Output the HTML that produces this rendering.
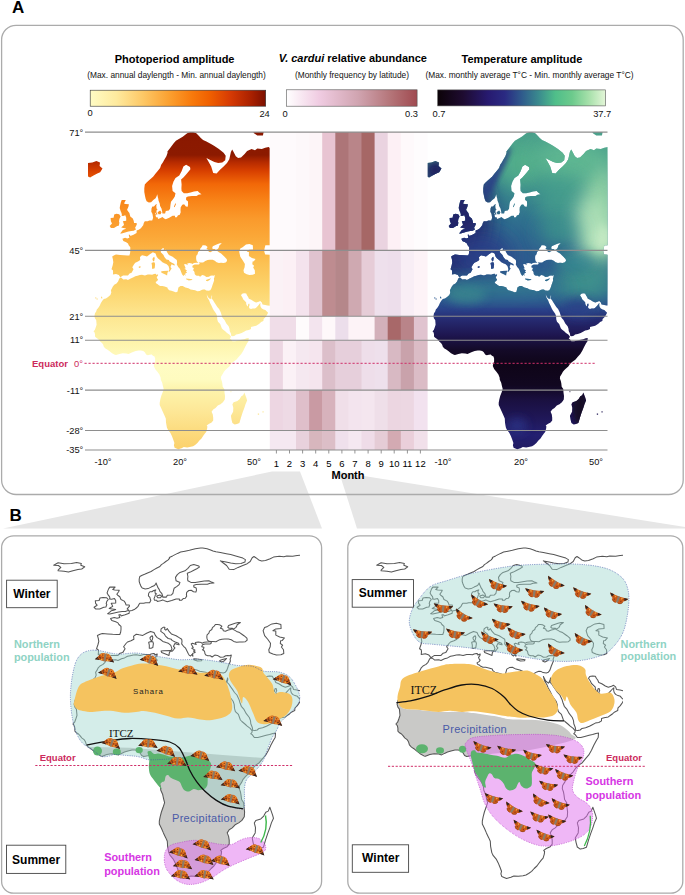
<!DOCTYPE html>
<html><head><meta charset="utf-8">
<style>
html,body{margin:0;padding:0;background:#fff;width:685px;height:895px;overflow:hidden}
svg{display:block}
text{font-family:"Liberation Sans",sans-serif}
</style></head>
<body>
<svg width="685" height="895" viewBox="0 0 685 895">
<defs>
<linearGradient id="cbPhoto" x1="0" x2="1" y1="0" y2="0">
<stop offset="0" stop-color="#fffcc4"/><stop offset="0.15" stop-color="#feea9e"/><stop offset="0.3" stop-color="#fdc866"/><stop offset="0.45" stop-color="#fba030"/><stop offset="0.58" stop-color="#f87a0c"/><stop offset="0.68" stop-color="#f06000"/><stop offset="0.8" stop-color="#d63a04"/><stop offset="0.92" stop-color="#a82000"/><stop offset="1" stop-color="#7c1000"/>
</linearGradient>
<linearGradient id="cbAbund" x1="0" x2="1" y1="0" y2="0">
<stop offset="0" stop-color="#ffffff"/><stop offset="0.25" stop-color="#f0cce2"/><stop offset="0.55" stop-color="#d0a4b0"/><stop offset="0.8" stop-color="#b47478"/><stop offset="1" stop-color="#a04a50"/>
</linearGradient>
<linearGradient id="cbTemp" x1="0" x2="1" y1="0" y2="0">
<stop offset="0" stop-color="#0c0308"/><stop offset="0.15" stop-color="#1e0b30"/><stop offset="0.3" stop-color="#271a70"/><stop offset="0.4" stop-color="#2a2a82"/><stop offset="0.5" stop-color="#2f5a8c"/><stop offset="0.6" stop-color="#3a8a8e"/><stop offset="0.7" stop-color="#4fbe8a"/><stop offset="0.8" stop-color="#6cca8c"/><stop offset="0.9" stop-color="#a6e0aa"/><stop offset="1" stop-color="#e4f6d8"/>
</linearGradient>
</defs>

<!-- gray projection shapes -->
<path d="M272,471.5 L300,471.5 L322,528.5 L3,528.5 Z" fill="#e6e6e6"/>
<path d="M339,472 L357,528.5 L685,528.5 L685,527 Z" fill="#e6e6e6"/>

<!-- Panel A frame -->
<rect x="1.6" y="25.3" width="681.6" height="469.2" rx="14.5" fill="none" stroke="#ababab" stroke-width="1.3"/>
<text x="12" y="13.3" font-size="17" font-weight="bold">A</text>
<text x="9.4" y="521" font-size="17" font-weight="bold">B</text>

<!-- titles -->
<g font-size="11" font-weight="bold" text-anchor="middle" fill="#000">
<text x="174.6" y="62.5">Photoperiod amplitude</text>
<text x="352.9" y="62.4"><tspan font-style="italic">V. cardui</tspan> relative abundance</text>
<text x="522" y="62.5">Temperature amplitude</text>
</g>
<g font-size="8.35" text-anchor="middle" fill="#111">
<text x="176.5" y="78.4">(Max. annual daylength - Min. annual daylength)</text>
<text x="352" y="78.4">(Monthly frequency by latitude)</text>
<text x="529.5" y="78.4">(Max. monthly average T°C - Min. monthly average T°C)</text>
</g>
<!-- colorbars -->
<rect x="90.2" y="90.2" width="175.5" height="16" fill="url(#cbPhoto)" stroke="#333" stroke-width="0.6"/>
<rect x="286.3" y="89.8" width="130.8" height="16.4" fill="url(#cbAbund)" stroke="#555" stroke-width="0.6"/>
<rect x="437.7" y="89.9" width="167.9" height="16" fill="url(#cbTemp)" stroke="#555" stroke-width="0.6"/>
<g font-size="9.3" fill="#111">
<text x="87.6" y="115.5">0</text>
<text x="259.4" y="117.3">24</text>
<text x="282.6" y="116.6">0</text>
<text x="405" y="116.6">0.3</text>
<text x="432.6" y="117">0.7</text>
<text x="593.2" y="117">37.7</text>
</g>

<!-- MAPS A -->
<g id="mapsA">
<defs><linearGradient id="gPhoto" gradientUnits="userSpaceOnUse" x1="0" y1="132" x2="0" y2="452"><stop offset="0.0000" stop-color="#8a1800"/><stop offset="0.0719" stop-color="#8c1a00"/><stop offset="0.0938" stop-color="#b52a00"/><stop offset="0.1219" stop-color="#d84000"/><stop offset="0.1625" stop-color="#f26808"/><stop offset="0.2156" stop-color="#f88418"/><stop offset="0.2719" stop-color="#fa9a2c"/><stop offset="0.3281" stop-color="#fba838"/><stop offset="0.3688" stop-color="#fcb444"/><stop offset="0.4125" stop-color="#fcc254"/><stop offset="0.4875" stop-color="#fcd46c"/><stop offset="0.5750" stop-color="#fde690"/><stop offset="0.6500" stop-color="#fef3a8"/><stop offset="0.7219" stop-color="#fffcc4"/><stop offset="0.7750" stop-color="#fefbbf"/><stop offset="0.8063" stop-color="#fdf3ab"/><stop offset="0.8688" stop-color="#fde898"/><stop offset="0.9313" stop-color="#fcdc80"/><stop offset="1.0000" stop-color="#fbcf68"/></linearGradient><clipPath id="clipL"><rect x="88" y="132" width="181.8" height="320"/></clipPath><clipPath id="clipR"><rect x="427" y="132" width="180.5" height="320"/></clipPath><path id="landA" fill-rule="evenodd" d="M270.9,148.4 268.6,147.1 265.2,147.8 261.8,149.0 257.3,148.4 255.0,150.2 251.6,149.0 247.1,150.9 244.6,153.9 241.0,157.4 238.1,158.0 235.8,156.2 233.6,152.1 232.2,149.6 230.9,152.1 229.3,159.2 227.0,163.1 223.6,166.5 220.0,169.7 216.6,173.4 213.2,172.9 211.2,166.5 208.7,162.0 206.4,158.0 209.8,159.7 214.4,162.0 218.2,163.1 222.3,162.6 225.2,160.3 225.7,155.7 223.6,152.7 218.9,149.0 214.4,145.9 211.0,144.0 206.4,141.4 203.1,140.1 200.8,138.1 199.0,136.0 196.3,133.3 192.9,131.9 191.3,131.5 187.2,133.3 182.7,136.7 179.3,138.7 175.9,140.7 173.7,143.3 169.8,148.4 167.4,151.5 167.6,152.7 166.4,156.2 164.6,159.2 162.8,162.6 161.2,164.8 160.1,168.1 157.9,170.8 155.6,173.4 153.3,176.5 151.1,178.5 148.8,180.5 146.6,182.5 144.8,184.4 144.3,188.2 144.3,192.0 145.0,196.0 145.7,199.1 146.6,201.3 148.8,202.6 151.1,202.2 153.3,200.0 155.6,198.3 156.7,196.0 157.2,194.2 157.9,197.4 158.3,198.7 158.5,200.5 159.7,203.5 160.1,206.0 161.5,208.5 162.2,211.8 162.4,213.4 165.1,213.4 165.8,210.9 168.9,210.5 170.1,208.5 170.5,204.7 171.0,201.8 173.2,199.1 174.8,196.5 175.5,193.3 172.6,191.0 172.1,185.9 173.5,181.5 175.5,178.0 179.3,175.5 181.6,171.3 183.4,166.5 186.1,164.8 190.0,167.0 190.4,169.2 188.4,171.8 186.1,174.4 183.4,177.5 181.1,179.5 181.6,184.4 181.4,188.2 181.6,191.0 183.8,193.3 187.2,193.3 190.6,192.4 194.0,191.5 197.6,191.0 199.7,192.9 201.5,194.2 198.5,194.7 196.5,196.0 191.8,196.0 187.9,196.5 186.1,197.4 186.1,200.0 187.9,201.3 188.1,204.3 187.7,206.8 185.9,206.4 184.1,204.3 182.3,204.7 180.7,207.2 180.5,210.1 180.7,212.2 179.6,214.9 178.0,215.3 176.8,217.3 175.0,217.3 175.0,215.7 172.6,215.7 169.2,217.7 165.8,219.2 164.2,218.5 162.4,216.9 160.6,218.1 158.1,218.9 157.6,217.3 156.1,217.3 155.6,215.7 156.3,212.6 156.7,210.1 157.6,209.3 156.5,208.5 156.3,205.6 157.0,203.9 155.4,204.7 154.0,206.4 152.4,206.4 151.5,208.5 151.3,211.8 152.4,213.8 152.7,215.3 153.1,217.7 152.2,220.4 149.3,220.4 147.7,221.2 144.8,221.2 143.8,223.0 143.2,225.3 142.0,226.8 140.9,228.2 138.7,229.7 136.6,230.4 136.6,232.9 133.5,234.7 130.3,235.9 130.1,234.7 128.7,234.7 129.4,237.8 127.3,238.5 125.1,237.8 122.4,238.8 123.3,240.9 126.2,242.2 128.0,243.6 128.7,245.2 130.3,247.2 130.3,250.4 130.1,253.0 129.4,255.5 127.3,255.5 124.0,255.3 120.1,254.9 116.0,254.4 114.2,255.2 112.2,256.4 112.9,259.2 113.3,262.2 112.7,265.2 111.5,269.3 112.9,270.2 113.1,271.9 112.9,274.5 116.0,274.0 118.8,275.1 120.3,277.3 123.1,275.4 128.0,275.4 129.6,273.4 131.6,272.8 133.5,269.3 132.3,267.3 134.1,264.3 135.3,262.8 138.0,261.6 140.2,260.1 140.0,257.0 142.0,255.2 144.3,255.8 147.0,256.4 149.9,254.2 152.9,252.3 155.6,253.6 156.7,256.7 158.1,258.6 160.6,260.4 162.4,262.2 164.9,263.4 166.4,264.0 168.5,266.1 169.4,269.3 168.5,271.7 169.4,271.7 170.5,270.2 171.6,268.5 170.5,267.0 171.6,264.3 173.7,265.2 174.8,265.5 174.4,264.0 171.9,262.8 169.4,261.3 168.9,260.1 166.4,259.5 164.4,257.0 163.5,254.9 160.8,252.3 161.0,249.8 162.6,248.2 164.0,248.2 163.7,250.1 164.6,251.1 165.8,249.5 167.4,252.7 168.9,254.9 170.5,255.8 172.6,256.7 174.8,258.6 176.8,260.1 177.1,262.2 176.8,264.6 178.2,267.0 179.8,268.8 180.7,270.8 181.8,273.7 182.5,275.1 183.6,275.9 184.5,274.5 185.4,276.2 185.2,273.7 186.1,273.1 187.2,272.5 185.9,271.4 187.0,270.5 184.5,268.8 185.7,268.2 184.1,264.6 185.0,264.0 186.8,264.6 187.9,265.2 187.2,263.4 189.5,263.0 191.8,263.4 192.4,264.0 194.0,263.1 196.3,262.8 198.5,262.7 196.7,261.3 196.3,259.8 196.1,258.0 196.3,255.8 197.6,254.2 198.1,252.0 199.9,250.4 200.3,248.5 201.7,246.9 202.6,245.2 204.2,245.2 205.8,245.5 207.6,246.9 206.4,249.1 208.3,249.8 208.7,251.7 210.3,252.2 212.6,251.1 214.4,250.4 215.7,249.1 213.2,249.1 212.1,248.2 212.8,246.2 215.5,244.9 217.8,243.9 220.0,243.2 221.8,243.2 219.3,245.5 218.9,247.2 218.2,248.5 217.1,249.5 215.9,250.1 217.3,251.1 218.9,252.3 221.1,253.6 222.9,255.2 224.5,256.7 226.8,259.2 227.0,261.0 225.7,262.5 223.4,263.0 221.1,262.8 218.9,263.1 216.6,262.2 214.8,260.7 212.6,259.8 209.8,259.8 207.6,260.1 205.3,261.0 203.1,262.5 200.8,262.4 199.0,262.2 199.7,263.7 198.8,264.6 196.3,264.6 194.7,264.6 192.7,265.5 192.2,267.3 193.8,267.9 193.6,269.3 192.7,270.2 193.8,270.8 194.5,272.2 194.7,274.0 195.4,275.1 196.7,275.7 198.8,275.7 200.1,276.8 202.2,275.1 204.2,275.4 206.4,277.1 208.9,276.8 210.5,275.7 212.1,275.4 213.5,275.7 214.8,275.1 214.4,277.3 213.9,278.7 214.1,280.4 213.5,282.3 212.6,284.8 211.9,287.0 211.2,288.8 210.3,290.2 208.7,290.7 206.2,290.4 204.9,289.6 203.1,289.4 201.5,289.9 199.7,291.0 197.4,291.2 195.1,290.2 190.6,289.4 188.4,288.3 185.4,287.5 182.7,285.9 180.5,286.1 178.4,287.5 178.0,289.4 177.3,292.0 175.5,292.3 173.7,291.5 171.4,290.7 169.2,290.2 167.8,288.8 167.4,287.5 164.6,286.4 162.4,285.9 160.1,285.9 158.5,285.1 157.4,284.0 156.3,283.4 155.6,282.1 157.2,281.0 158.1,279.6 157.2,278.5 156.7,277.1 157.9,275.7 158.1,274.2 156.3,275.1 156.1,274.0 155.1,273.7 153.3,274.2 152.2,274.8 149.9,274.5 147.7,274.5 145.0,275.4 142.0,274.8 139.8,275.1 137.5,275.7 135.3,276.2 133.0,277.6 130.7,278.5 128.0,279.9 126.2,279.3 123.3,279.6 121.0,277.6 119.7,277.9 119.0,279.3 118.1,281.5 116.5,283.4 114.2,284.8 112.7,286.7 112.0,288.3 110.9,290.2 111.3,292.5 110.4,294.9 108.1,297.0 105.9,298.5 103.8,299.0 102.3,300.8 100.9,303.1 99.8,305.6 98.2,307.9 96.8,309.4 96.2,311.4 95.0,313.3 94.4,316.2 95.0,318.4 96.2,319.9 96.4,322.3 96.6,324.7 95.7,327.5 94.8,329.9 93.5,331.3 94.6,332.4 95.0,334.3 95.0,336.6 95.9,337.6 97.7,338.7 99.1,340.1 100.2,341.5 102.0,342.9 103.2,344.7 103.8,346.8 105.4,348.4 107.2,349.5 109.3,351.1 112.0,353.2 114.9,354.8 116.0,355.1 119.4,353.9 122.8,353.2 126.2,353.4 128.5,354.1 130.7,353.0 133.0,352.0 135.7,351.1 138.7,350.6 140.9,350.4 143.2,350.9 144.8,352.3 146.1,354.6 147.7,355.2 149.9,354.8 151.8,354.6 152.9,355.7 154.5,356.6 155.1,358.6 155.1,361.6 154.2,363.9 153.8,366.1 155.1,369.1 157.4,371.8 159.4,374.5 160.6,377.5 160.8,379.8 162.2,382.8 162.8,385.5 163.7,389.0 162.6,392.4 161.2,395.9 160.3,399.4 159.7,402.7 159.7,404.9 161.2,408.2 162.8,411.8 164.6,415.7 165.8,418.4 166.0,422.4 166.9,427.4 167.8,429.4 170.3,432.8 171.9,435.9 173.2,439.6 174.4,443.0 173.9,445.2 174.6,447.7 176.4,448.5 178.2,449.3 181.6,448.2 183.8,447.1 187.2,447.4 190.9,446.8 193.1,446.3 195.1,444.9 197.4,443.0 199.4,440.6 201.5,438.5 203.1,436.1 204.9,433.5 206.2,432.0 207.1,428.7 207.4,426.6 206.7,425.6 208.7,424.1 211.6,422.6 213.2,420.6 213.2,417.4 212.8,414.5 211.6,411.8 213.2,409.4 215.5,408.0 217.8,405.6 220.5,404.2 222.9,402.3 224.8,399.4 225.0,395.9 224.5,392.4 224.3,389.0 222.7,386.7 222.3,383.2 221.8,380.9 220.9,378.6 221.1,376.4 222.7,374.1 223.9,371.8 225.4,370.0 227.0,368.6 229.3,366.4 231.3,363.6 233.8,361.4 236.3,359.8 238.8,356.8 241.3,354.1 243.3,350.7 245.1,347.0 247.1,343.3 248.5,341.3 248.7,338.0 246.7,338.3 244.2,339.2 241.5,339.7 238.1,340.6 235.2,341.3 232.4,341.3 230.9,339.2 229.7,338.5 230.6,337.6 230.9,336.4 229.3,334.5 227.0,332.9 225.2,331.3 222.9,329.4 221.8,328.2 220.2,323.9 218.0,321.8 217.3,319.4 217.1,316.2 216.2,313.8 213.9,310.6 213.0,308.9 211.4,305.6 210.1,303.1 209.2,300.6 207.4,297.5 206.7,294.6 206.4,293.7 207.1,295.2 208.3,297.5 210.3,299.3 211.0,298.3 211.6,296.2 212.0,294.9 212.1,296.5 211.4,298.5 212.8,299.8 214.4,302.4 215.7,304.4 217.3,306.9 219.1,308.9 220.7,312.3 221.4,314.5 222.5,317.7 224.5,320.1 226.3,323.5 228.6,326.3 229.5,328.7 229.7,331.0 230.9,333.6 231.3,335.9 232.9,336.2 234.7,335.7 236.1,334.5 238.8,334.1 241.7,332.9 244.0,331.7 246.2,330.6 248.9,330.1 251.0,328.9 251.0,327.0 253.0,326.6 256.2,325.8 258.2,324.4 259.6,323.5 261.1,322.0 263.4,321.1 263.6,318.9 265.2,317.5 266.8,315.3 268.1,312.8 266.3,311.1 265.4,309.9 263.6,309.4 261.8,308.4 260.7,306.9 260.2,304.9 260.5,303.1 259.8,303.6 258.7,304.9 257.8,305.9 256.4,307.4 255.0,308.6 252.8,308.6 251.0,308.9 249.6,308.4 248.9,307.1 249.6,305.1 249.2,303.6 248.3,303.9 247.8,305.9 247.4,306.4 246.2,304.1 246.2,302.6 244.9,301.1 243.3,299.5 242.4,297.5 241.0,295.2 241.9,293.9 242.8,293.6 244.2,293.3 246.2,293.6 247.1,295.4 248.0,296.7 248.9,298.8 251.2,299.8 253.9,301.6 256.2,302.6 258.7,301.8 260.2,301.1 261.8,302.4 262.5,304.4 265.2,304.9 267.5,305.4 270.9,305.9ZM120.1,233.4 121.7,233.6 125.1,232.5 128.5,231.5 131.2,230.9 133.7,230.8 136.2,229.3 135.0,227.9 136.8,224.5 136.6,223.0 134.1,223.0 133.7,220.8 132.8,218.5 130.3,216.5 129.4,213.0 127.8,210.9 127.1,209.7 128.5,206.4 128.9,204.3 125.5,203.9 124.0,203.5 125.8,200.0 121.7,200.0 120.8,202.6 120.1,205.6 119.7,208.1 120.6,210.9 121.5,213.0 121.9,214.9 121.5,215.7 123.1,216.1 125.3,215.3 126.2,217.7 126.2,220.8 122.8,221.2 123.5,223.0 124.0,224.9 122.2,226.4 121.2,227.5 123.5,227.9 126.2,228.6 124.6,229.3 122.8,230.0 121.5,231.8ZM119.0,221.5 119.4,218.9 120.6,216.5 119.2,214.2 116.5,213.8 114.2,214.6 113.6,217.7 110.6,218.1 110.9,221.2 112.0,223.4 109.7,226.0 110.9,227.9 114.0,227.9 117.2,226.0 118.8,225.7 119.4,222.7ZM82.2,174.4 84.2,169.7 82.4,166.5 78.8,165.9 82.2,161.4 86.7,163.1 92.3,162.6 96.4,160.9 100.0,162.6 99.6,165.9 102.5,168.6 100.2,172.3 97.3,173.4 93.5,175.5 90.1,177.5 86.7,176.0 82.2,175.5ZM154.2,256.7 154.7,258.3 154.2,261.0 153.8,261.6 152.9,260.7 152.4,258.9 153.3,257.4ZM154.7,262.5 155.1,264.3 154.7,268.2 153.3,268.8 152.0,268.8 152.0,265.8 151.5,263.1 153.3,262.2ZM161.0,271.4 163.1,271.1 168.3,270.8 167.4,273.1 167.1,275.4 165.3,274.5 161.5,272.8ZM186.1,278.5 188.4,278.7 192.4,279.3 192.0,280.1 188.8,280.4 186.1,279.3ZM206.0,279.9 208.0,279.2 211.2,278.2 209.6,280.1 207.6,281.2 206.0,280.7ZM244.4,392.4 246.5,398.3 247.1,400.6 245.5,404.2 244.4,407.7 242.6,412.5 241.0,417.4 239.4,423.1 237.0,424.1 234.7,424.6 232.4,422.9 231.5,419.4 230.9,415.7 233.1,411.8 233.3,407.7 232.4,404.2 233.6,402.3 237.4,401.1 239.7,399.0 241.3,396.2 243.1,395.2ZM157.6,212.2 160.1,210.5 161.5,212.2 160.6,214.2 158.5,214.2ZM155.1,213.0 157.0,212.6 157.4,214.6 155.8,214.6ZM173.9,206.8 175.5,203.0 175.9,204.3 174.6,207.2ZM250.5,125.4 253.9,133.3 257.3,135.4 262.9,135.4 265.2,125.4ZM138.4,267.0 140.2,266.1 140.7,267.3 139.6,267.9ZM100.9,297.0 101.8,296.5 102.5,298.3 101.4,298.5ZM94.8,297.7 96.4,297.2 95.9,298.8 97.5,298.5 98.2,299.3 96.8,299.5ZM257.8,413.5 259.1,413.5 259.1,414.7 257.8,414.7ZM262.5,411.3 263.6,411.3 263.6,412.5 262.5,412.5ZM230.6,391.0 231.3,391.0 231.3,392.2 230.6,392.2ZM239.2,251.7 240.3,256.7 242.8,260.4 244.9,264.0 244.6,267.3 243.5,270.2 244.0,272.8 246.7,274.2 249.4,275.1 252.8,274.8 255.0,273.7 254.8,270.2 253.2,267.6 254.1,265.8 252.3,264.3 252.6,261.6 253.9,261.3 255.5,258.9 251.9,258.0 248.9,256.1 248.9,252.0 246.7,251.7 248.9,249.8 253.0,249.5 252.8,245.2 249.4,243.9 246.0,244.6 244.2,245.9 242.6,247.2 240.3,248.5ZM264.5,248.8 265.4,245.2 270.9,245.2 270.9,254.9 265.2,254.5 264.3,251.7Z"/><linearGradient id="gTemp" gradientUnits="userSpaceOnUse" x1="0" y1="132" x2="0" y2="452"><stop offset="0.0000" stop-color="#4a9f8c"/><stop offset="0.0875" stop-color="#48a08b"/><stop offset="0.1812" stop-color="#3a878e"/><stop offset="0.2750" stop-color="#30708f"/><stop offset="0.3688" stop-color="#2e608f"/><stop offset="0.4313" stop-color="#2e5a8f"/><stop offset="0.4938" stop-color="#2f6590"/><stop offset="0.5250" stop-color="#2c5590"/><stop offset="0.5563" stop-color="#2a4088"/><stop offset="0.5875" stop-color="#262a70"/><stop offset="0.6344" stop-color="#1e1650"/><stop offset="0.6813" stop-color="#140a28"/><stop offset="0.7281" stop-color="#0f0518"/><stop offset="0.7906" stop-color="#110720"/><stop offset="0.8375" stop-color="#1a1040"/><stop offset="0.9000" stop-color="#20185a"/><stop offset="0.9469" stop-color="#242070"/><stop offset="1.0000" stop-color="#201a60"/></linearGradient><filter id="bl12" x="-50%" y="-50%" width="200%" height="200%"><feGaussianBlur stdDeviation="10"/></filter><filter id="bl3" x="-50%" y="-50%" width="200%" height="200%"><feGaussianBlur stdDeviation="2.5"/></filter><filter id="bl6" x="-50%" y="-50%" width="200%" height="200%"><feGaussianBlur stdDeviation="5"/></filter><clipPath id="clipLandR"><use href="#landA" x="339"/></clipPath></defs><g clip-path="url(#clipL)"><use href="#landA" fill="url(#gPhoto)"/></g><g clip-path="url(#clipR)"><g clip-path="url(#clipLandR)"><rect x="427" y="132" width="181" height="320" fill="url(#gTemp)"/><ellipse cx="455" cy="215" rx="35" ry="60" fill="#232068" opacity="0.95" filter="url(#bl12)"/><ellipse cx="482" cy="255" rx="30" ry="22" fill="#2a3f88" opacity="0.9" filter="url(#bl12)"/><ellipse cx="600" cy="215" rx="22" ry="55" fill="#8fd0a4" opacity="1" filter="url(#bl12)"/><ellipse cx="601" cy="238" rx="10" ry="14" fill="#d2f0cb" opacity="1" filter="url(#bl6)"/><ellipse cx="522" cy="165" rx="22" ry="22" fill="#55b08b" opacity="0.9" filter="url(#bl12)"/><ellipse cx="570" cy="160" rx="35" ry="22" fill="#62b993" opacity="0.9" filter="url(#bl12)"/><ellipse cx="560" cy="200" rx="25" ry="25" fill="#4aa58c" opacity="0.7" filter="url(#bl12)"/><ellipse cx="585" cy="280" rx="30" ry="22" fill="#3f958c" opacity="0.9" filter="url(#bl12)"/><ellipse cx="575" cy="262" rx="18" ry="10" fill="#358590" opacity="0.8" filter="url(#bl6)"/><ellipse cx="466" cy="294" rx="20" ry="9" fill="#3d8a8e" opacity="0.8" filter="url(#bl6)"/><ellipse cx="517" cy="426" rx="10" ry="8" fill="#2a3182" opacity="0.9" filter="url(#bl6)"/><ellipse cx="578" cy="308" rx="16" ry="10" fill="#2b4088" opacity="0.8" filter="url(#bl6)"/><ellipse cx="435" cy="170" rx="10" ry="9" fill="#1f1a5e" opacity="1" filter="url(#bl6)"/><ellipse cx="505" cy="288" rx="65" ry="10" fill="#34808f" opacity="0.75" filter="url(#bl12)"/><ellipse cx="488" cy="180" rx="6" ry="22" fill="#2b3d86" opacity="0.6" filter="url(#bl6)"/><ellipse cx="592" cy="225" rx="16" ry="28" fill="#b5e3bb" opacity="0.9" filter="url(#bl12)"/><ellipse cx="560" cy="232" rx="20" ry="14" fill="#3f9a8c" opacity="0.8" filter="url(#bl12)"/><ellipse cx="580" cy="410" rx="7" ry="16" fill="#140a24" opacity="0.9" filter="url(#bl3)"/><ellipse cx="0" cy="0" rx="4" ry="28" fill="#2b3d86" opacity="0.85" filter="url(#bl3)" transform="translate(497,172) rotate(28)"/></g></g>
</g>

<!-- HEATMAP -->
<g id="heat">
<rect x="269.8" y="132.1" width="13.70" height="118.3" fill="#fefafc"/>
<rect x="282.9" y="132.1" width="13.70" height="118.3" fill="#fefafc"/>
<rect x="296.0" y="132.1" width="13.70" height="118.3" fill="#fdf8fa"/>
<rect x="309.1" y="132.1" width="13.70" height="118.3" fill="#fdf5f8"/>
<rect x="322.2" y="132.1" width="13.70" height="118.3" fill="#e8c4d2"/>
<rect x="335.3" y="132.1" width="13.70" height="118.3" fill="#ad7578"/>
<rect x="348.4" y="132.1" width="13.70" height="118.3" fill="#b98589"/>
<rect x="361.5" y="132.1" width="13.70" height="118.3" fill="#a66766"/>
<rect x="374.6" y="132.1" width="13.70" height="118.3" fill="#ead3e0"/>
<rect x="387.7" y="132.1" width="13.70" height="118.3" fill="#fdf0f5"/>
<rect x="400.8" y="132.1" width="13.70" height="118.3" fill="#fef9fb"/>
<rect x="413.9" y="132.1" width="13.70" height="118.3" fill="#fefcfd"/>
<rect x="269.8" y="250.4" width="13.70" height="65.9" fill="#fbf2f6"/>
<rect x="282.9" y="250.4" width="13.70" height="65.9" fill="#fcf0f5"/>
<rect x="296.0" y="250.4" width="13.70" height="65.9" fill="#f4e3ed"/>
<rect x="309.1" y="250.4" width="13.70" height="65.9" fill="#e0c3cf"/>
<rect x="322.2" y="250.4" width="13.70" height="65.9" fill="#be8c90"/>
<rect x="335.3" y="250.4" width="13.70" height="65.9" fill="#b5878a"/>
<rect x="348.4" y="250.4" width="13.70" height="65.9" fill="#cfa9b1"/>
<rect x="361.5" y="250.4" width="13.70" height="65.9" fill="#e6ccd7"/>
<rect x="374.6" y="250.4" width="13.70" height="65.9" fill="#eee0ec"/>
<rect x="387.7" y="250.4" width="13.70" height="65.9" fill="#eddeeb"/>
<rect x="400.8" y="250.4" width="13.70" height="65.9" fill="#f8eef5"/>
<rect x="413.9" y="250.4" width="13.70" height="65.9" fill="#fdf3f7"/>
<rect x="269.8" y="316.3" width="13.70" height="23.9" fill="#f0dde8"/>
<rect x="282.9" y="316.3" width="13.70" height="23.9" fill="#f0dde8"/>
<rect x="296.0" y="316.3" width="13.70" height="23.9" fill="#fefbfc"/>
<rect x="309.1" y="316.3" width="13.70" height="23.9" fill="#f3e4ee"/>
<rect x="322.2" y="316.3" width="13.70" height="23.9" fill="#fef8fa"/>
<rect x="335.3" y="316.3" width="13.70" height="23.9" fill="#ecdeeb"/>
<rect x="348.4" y="316.3" width="13.70" height="23.9" fill="#fdf3f7"/>
<rect x="361.5" y="316.3" width="13.70" height="23.9" fill="#fdf3f7"/>
<rect x="374.6" y="316.3" width="13.70" height="23.9" fill="#d3b0ba"/>
<rect x="387.7" y="316.3" width="13.70" height="23.9" fill="#a86869"/>
<rect x="400.8" y="316.3" width="13.70" height="23.9" fill="#b98489"/>
<rect x="413.9" y="316.3" width="13.70" height="23.9" fill="#e0c3cf"/>
<rect x="269.8" y="340.2" width="13.70" height="49.9" fill="#ecd6e2"/>
<rect x="282.9" y="340.2" width="13.70" height="49.9" fill="#fbf1f6"/>
<rect x="296.0" y="340.2" width="13.70" height="49.9" fill="#f5e8f0"/>
<rect x="309.1" y="340.2" width="13.70" height="49.9" fill="#f5e5ee"/>
<rect x="322.2" y="340.2" width="13.70" height="49.9" fill="#dcbfca"/>
<rect x="335.3" y="340.2" width="13.70" height="49.9" fill="#e6cfdb"/>
<rect x="348.4" y="340.2" width="13.70" height="49.9" fill="#e6cfdb"/>
<rect x="361.5" y="340.2" width="13.70" height="49.9" fill="#eedeea"/>
<rect x="374.6" y="340.2" width="13.70" height="49.9" fill="#eee0ec"/>
<rect x="387.7" y="340.2" width="13.70" height="49.9" fill="#d8b9c3"/>
<rect x="400.8" y="340.2" width="13.70" height="49.9" fill="#c9a2ab"/>
<rect x="413.9" y="340.2" width="13.70" height="49.9" fill="#dbbcc6"/>
<rect x="269.8" y="390.1" width="13.70" height="40.4" fill="#edd6e2"/>
<rect x="282.9" y="390.1" width="13.70" height="40.4" fill="#eedae5"/>
<rect x="296.0" y="390.1" width="13.70" height="40.4" fill="#dfbfca"/>
<rect x="309.1" y="390.1" width="13.70" height="40.4" fill="#c99aa3"/>
<rect x="322.2" y="390.1" width="13.70" height="40.4" fill="#d7b2bc"/>
<rect x="335.3" y="390.1" width="13.70" height="40.4" fill="#f0dfe9"/>
<rect x="348.4" y="390.1" width="13.70" height="40.4" fill="#f3e4ee"/>
<rect x="361.5" y="390.1" width="13.70" height="40.4" fill="#f4e6ef"/>
<rect x="374.6" y="390.1" width="13.70" height="40.4" fill="#efdfe9"/>
<rect x="387.7" y="390.1" width="13.70" height="40.4" fill="#ecd6e1"/>
<rect x="400.8" y="390.1" width="13.70" height="40.4" fill="#ecd7e2"/>
<rect x="413.9" y="390.1" width="13.70" height="40.4" fill="#f2e2ef"/>
<rect x="269.8" y="430.5" width="13.70" height="19.5" fill="#f5e8f1"/>
<rect x="282.9" y="430.5" width="13.70" height="19.5" fill="#f5e8f1"/>
<rect x="296.0" y="430.5" width="13.70" height="19.5" fill="#e8d1dc"/>
<rect x="309.1" y="430.5" width="13.70" height="19.5" fill="#d7b6bd"/>
<rect x="322.2" y="430.5" width="13.70" height="19.5" fill="#dcbec7"/>
<rect x="335.3" y="430.5" width="13.70" height="19.5" fill="#efe0ec"/>
<rect x="348.4" y="430.5" width="13.70" height="19.5" fill="#f5e8f1"/>
<rect x="361.5" y="430.5" width="13.70" height="19.5" fill="#efdce8"/>
<rect x="374.6" y="430.5" width="13.70" height="19.5" fill="#e5ccd6"/>
<rect x="387.7" y="430.5" width="13.70" height="19.5" fill="#d3aab2"/>
<rect x="400.8" y="430.5" width="13.70" height="19.5" fill="#eacfda"/>
<rect x="413.9" y="430.5" width="13.70" height="19.5" fill="#f1e0ea"/>
</g>

<!-- latitude lines -->
<g stroke="#8e8e8e" stroke-width="1.1">
<line x1="85" y1="132.1" x2="607.5" y2="132.1"/>
<line x1="85" y1="250.4" x2="607.5" y2="250.4"/>
<line x1="85" y1="316.3" x2="607.5" y2="316.3"/>
<line x1="85" y1="340.2" x2="607.5" y2="340.2"/>
<line x1="85" y1="390.1" x2="607.5" y2="390.1"/>
<line x1="85" y1="430.5" x2="607.5" y2="430.5"/>
<line x1="85" y1="450" x2="607.5" y2="450"/>
</g>
<line x1="84.5" y1="363.3" x2="596" y2="363.3" stroke="#d0306a" stroke-width="1" stroke-dasharray="2.2 1.8"/>
<g font-size="9.3" fill="#111" text-anchor="end">
<text x="83.3" y="135.5">71°</text>
<text x="83.3" y="253.8">45°</text>
<text x="83.3" y="319.7">21°</text>
<text x="83.3" y="343.3">11°</text>
<text x="83.3" y="393.5">-11°</text>
<text x="83.3" y="433.9">-28°</text>
<text x="83.3" y="453.4">-35°</text>
</g>
<text x="67.9" y="367.1" font-size="9.5" font-weight="bold" fill="#cc2a5c" text-anchor="end">Equator</text>
<text x="83" y="367.1" font-size="9.3" fill="#cc2a5c" text-anchor="end">0°</text>
<!-- longitude labels -->
<g font-size="9.3" fill="#111" text-anchor="middle">
<text x="103" y="464.5">-10°</text>
<text x="180" y="464.5">20°</text>
<text x="254" y="464.5">50°</text>
<text x="443" y="464.5">-10°</text>
<text x="521" y="464.5">20°</text>
<text x="596" y="464.5">50°</text>
</g>
<!-- month ticks and labels -->
<g id="months">
<line x1="276.4" y1="450" x2="276.4" y2="453.5" stroke="#888" stroke-width="0.9"/>
<text x="276.4" y="466.7" font-size="9.5" text-anchor="middle">1</text>
<line x1="289.5" y1="450" x2="289.5" y2="453.5" stroke="#888" stroke-width="0.9"/>
<text x="289.5" y="466.7" font-size="9.5" text-anchor="middle">2</text>
<line x1="302.6" y1="450" x2="302.6" y2="453.5" stroke="#888" stroke-width="0.9"/>
<text x="302.6" y="466.7" font-size="9.5" text-anchor="middle">3</text>
<line x1="315.7" y1="450" x2="315.7" y2="453.5" stroke="#888" stroke-width="0.9"/>
<text x="315.7" y="466.7" font-size="9.5" text-anchor="middle">4</text>
<line x1="328.8" y1="450" x2="328.8" y2="453.5" stroke="#888" stroke-width="0.9"/>
<text x="328.8" y="466.7" font-size="9.5" text-anchor="middle">5</text>
<line x1="341.9" y1="450" x2="341.9" y2="453.5" stroke="#888" stroke-width="0.9"/>
<text x="341.9" y="466.7" font-size="9.5" text-anchor="middle">6</text>
<line x1="354.9" y1="450" x2="354.9" y2="453.5" stroke="#888" stroke-width="0.9"/>
<text x="354.9" y="466.7" font-size="9.5" text-anchor="middle">7</text>
<line x1="368.1" y1="450" x2="368.1" y2="453.5" stroke="#888" stroke-width="0.9"/>
<text x="368.1" y="466.7" font-size="9.5" text-anchor="middle">8</text>
<line x1="381.2" y1="450" x2="381.2" y2="453.5" stroke="#888" stroke-width="0.9"/>
<text x="381.2" y="466.7" font-size="9.5" text-anchor="middle">9</text>
<line x1="394.2" y1="450" x2="394.2" y2="453.5" stroke="#888" stroke-width="0.9"/>
<text x="394.2" y="466.7" font-size="9.5" text-anchor="middle">10</text>
<line x1="407.4" y1="450" x2="407.4" y2="453.5" stroke="#888" stroke-width="0.9"/>
<text x="407.4" y="466.7" font-size="9.5" text-anchor="middle">11</text>
<line x1="420.4" y1="450" x2="420.4" y2="453.5" stroke="#888" stroke-width="0.9"/>
<text x="420.4" y="466.7" font-size="9.5" text-anchor="middle">12</text>
</g>
<text x="348" y="478.8" font-size="11" font-weight="bold" text-anchor="middle">Month</text>

<!-- Panel B frames -->
<rect x="1.6" y="535.8" width="320" height="357.4" rx="12" fill="#fff" stroke="#ababab" stroke-width="1.3"/>
<rect x="347.8" y="535.8" width="335" height="357.4" rx="12" fill="#fff" stroke="#ababab" stroke-width="1.3"/>

<g id="mapsB">
<defs><clipPath id="clipBL"><rect x="2" y="536" width="298" height="357"/></clipPath><clipPath id="clipBR"><rect x="325" y="536" width="298" height="357"/></clipPath><path id="outB" d="M304.5,555.9 301.5,555.2 297.1,555.6 292.6,556.2 286.8,555.9 283.8,556.8 279.4,556.2 273.5,557.1 270.2,558.7 265.5,560.5 261.7,560.9 258.7,559.9 255.8,557.7 254.0,556.5 252.2,557.7 250.2,561.5 247.2,563.7 242.8,565.5 238.1,567.4 233.7,569.6 229.2,569.3 226.6,565.5 223.3,563.0 220.4,560.9 224.8,561.8 230.7,563.0 235.7,563.7 241.0,563.4 244.9,562.1 245.4,559.6 242.8,558.1 236.6,556.2 230.7,554.6 226.3,553.7 220.4,552.4 215.9,551.8 213.0,550.9 210.6,549.9 207.1,548.7 202.7,548.1 200.6,547.9 195.3,548.7 189.4,550.3 185.0,551.2 180.6,552.1 177.6,553.4 172.6,555.9 169.3,557.4 169.6,558.1 168.2,559.9 165.8,561.5 163.4,563.4 161.4,564.6 159.9,566.5 156.9,568.0 154.0,569.6 151.1,571.5 148.1,572.7 145.2,574.0 142.2,575.2 139.8,576.5 139.2,579.0 139.2,581.5 140.1,584.3 141.0,586.4 142.2,588.0 145.2,588.9 148.1,588.6 151.1,587.1 154.0,585.8 155.5,584.3 156.1,583.0 156.9,585.2 157.5,586.1 157.8,587.4 159.3,589.6 159.9,591.4 161.7,593.3 162.6,595.8 162.8,597.1 166.4,597.1 167.3,595.2 171.4,594.9 172.9,593.3 173.5,590.5 174.1,588.3 177.0,586.4 179.1,584.6 180.0,582.4 176.1,580.8 175.5,577.4 177.3,574.6 180.0,572.4 185.0,570.8 187.9,568.3 190.3,565.5 193.8,564.6 198.8,565.9 199.4,567.1 196.8,568.7 193.8,570.2 190.3,572.1 187.3,573.3 187.9,576.5 187.6,579.0 187.9,580.8 190.9,582.4 195.3,582.4 199.7,581.8 204.2,581.1 208.9,580.8 211.5,582.1 213.9,583.0 210.1,583.3 207.4,584.3 201.2,584.3 196.2,584.6 193.8,585.2 193.8,587.1 196.2,588.0 196.5,590.2 195.9,592.1 193.5,591.7 191.2,590.2 188.8,590.5 186.7,592.4 186.4,594.6 186.7,596.1 185.3,598.3 183.2,598.6 181.7,600.2 179.4,600.2 179.4,598.9 176.1,598.9 171.7,600.5 167.3,601.7 165.2,601.1 162.8,599.9 160.5,600.8 157.2,601.4 156.7,600.2 154.6,600.2 154.0,598.9 154.9,596.4 155.5,594.6 156.7,593.9 155.2,593.3 154.9,591.1 155.8,589.9 153.7,590.5 151.9,591.7 149.9,591.7 148.7,593.3 148.4,595.8 149.9,597.4 150.2,598.6 150.8,600.5 149.6,602.7 145.7,602.7 143.7,603.3 139.8,603.3 138.7,604.9 137.8,606.7 136.3,608.0 134.8,609.2 131.9,610.5 129.2,611.1 129.2,613.3 125.1,614.8 121.0,615.9 120.7,614.8 118.9,614.8 119.8,617.6 117.1,618.3 114.2,617.6 110.6,618.6 111.8,620.5 115.7,621.7 118.0,622.9 118.9,624.5 121.0,626.4 121.0,629.5 120.7,632.0 119.8,634.5 117.1,634.5 112.7,634.3 107.7,633.9 102.4,633.4 100.0,634.2 97.4,635.4 98.2,638.2 98.8,641.4 98.0,644.5 96.5,648.8 98.2,649.8 98.5,651.7 98.2,654.5 102.4,653.8 105.9,655.1 108.0,657.6 111.5,655.4 118.0,655.4 120.1,653.2 122.7,652.6 125.1,648.8 123.6,646.7 126.0,643.5 127.5,642.0 131.0,640.7 133.9,639.2 133.6,636.1 136.3,634.2 139.2,634.8 142.8,635.4 146.6,633.2 150.5,631.4 154.0,632.6 155.5,635.7 157.2,637.6 160.5,639.5 162.8,641.4 166.1,642.6 168.2,643.2 170.8,645.4 172.0,648.8 170.8,651.3 172.0,651.3 173.5,649.8 174.9,647.9 173.5,646.3 174.9,643.5 177.6,644.5 179.1,644.8 178.5,643.2 175.2,642.0 172.0,640.4 171.4,639.2 168.2,638.5 165.5,636.1 164.3,633.9 160.8,631.4 161.1,628.9 163.1,627.3 164.9,627.3 164.6,629.2 165.8,630.1 167.3,628.6 169.3,631.7 171.4,633.9 173.5,634.8 176.1,635.7 179.1,637.6 181.7,639.2 182.0,641.4 181.7,643.9 183.5,646.3 185.6,648.2 186.7,650.4 188.2,653.5 189.1,655.1 190.6,656.0 191.8,654.5 192.9,656.3 192.6,653.5 193.8,652.9 195.3,652.3 193.5,651.0 195.0,650.1 191.8,648.2 193.2,647.6 191.2,643.9 192.4,643.2 194.7,643.9 196.2,644.5 195.3,642.6 198.2,642.1 201.2,642.6 202.1,643.2 204.2,642.3 207.1,642.0 210.1,641.8 207.7,640.4 207.1,638.9 206.8,637.0 207.1,634.8 208.9,633.2 209.5,631.1 211.8,629.5 212.4,627.6 214.2,626.1 215.4,624.5 217.4,624.5 219.5,624.8 221.9,626.1 220.4,628.3 222.7,628.9 223.3,630.7 225.4,631.2 228.3,630.1 230.7,629.5 232.5,628.3 229.2,628.3 227.8,627.3 228.6,625.4 232.2,624.2 235.1,623.3 238.1,622.6 240.4,622.6 237.2,624.8 236.6,626.4 235.7,627.6 234.2,628.6 232.8,629.2 234.5,630.1 236.6,631.4 239.6,632.6 241.9,634.2 244.0,635.7 246.9,638.2 247.2,640.1 245.4,641.7 242.5,642.1 239.6,642.0 236.6,642.3 233.7,641.4 231.3,639.8 228.3,638.9 224.8,638.9 221.9,639.2 218.9,640.1 215.9,641.7 213.0,641.5 210.6,641.4 211.5,642.9 210.3,643.9 207.1,643.9 205.0,643.9 202.4,644.8 201.8,646.7 203.9,647.3 203.6,648.8 202.4,649.8 203.9,650.4 204.7,652.0 205.0,653.8 205.9,655.1 207.7,655.7 210.3,655.7 212.1,657.0 214.8,655.1 217.4,655.4 220.4,657.3 223.6,657.0 225.7,655.7 227.8,655.4 229.5,655.7 231.3,655.1 230.7,657.6 230.1,659.1 230.4,661.0 229.5,663.2 228.3,666.0 227.5,668.5 226.6,670.7 225.4,672.2 223.3,672.9 220.1,672.6 218.3,671.6 215.9,671.3 213.9,671.9 211.5,673.2 208.6,673.5 205.6,672.2 199.7,671.3 196.8,670.1 192.9,669.1 189.4,667.3 186.4,667.6 183.8,669.1 183.2,671.3 182.3,674.4 180.0,674.7 177.6,673.8 174.7,672.9 171.7,672.2 169.9,670.7 169.3,669.1 165.8,667.9 162.8,667.3 159.9,667.3 157.8,666.3 156.4,665.1 154.9,664.4 154.0,662.9 156.1,661.6 157.2,660.1 156.1,658.8 155.5,657.3 156.9,655.7 157.2,654.1 154.9,655.1 154.6,653.8 153.4,653.5 151.1,654.1 149.6,654.8 146.6,654.5 143.7,654.5 140.1,655.4 136.3,654.8 133.3,655.1 130.4,655.7 127.5,656.3 124.5,657.9 121.5,658.8 118.0,660.4 115.7,659.8 111.8,660.1 108.9,657.9 107.1,658.2 106.2,659.8 105.0,662.3 103.0,664.4 100.0,666.0 98.0,668.2 97.1,670.1 95.6,672.2 96.2,675.1 95.0,677.9 92.0,680.4 89.1,682.2 86.4,682.9 84.4,685.0 82.6,687.8 81.1,691.0 79.1,693.8 77.3,695.6 76.4,698.1 74.9,700.6 74.1,704.4 74.9,707.2 76.4,709.1 76.7,712.2 77.0,715.3 75.8,719.0 74.6,722.2 72.9,724.0 74.3,725.6 74.9,728.1 74.9,731.2 76.1,732.5 78.5,734.0 80.2,735.9 81.7,737.8 84.1,739.6 85.6,742.1 86.4,744.9 88.5,747.1 90.9,748.7 93.5,750.9 97.1,753.7 100.9,755.9 102.4,756.3 106.8,754.6 111.2,753.7 115.7,754.0 118.6,754.9 121.5,753.4 124.5,752.1 128.0,750.9 131.9,750.1 134.8,749.9 137.8,750.6 139.8,752.4 141.6,755.5 143.7,756.5 146.6,755.9 149.0,755.5 150.5,757.1 152.5,758.4 153.4,761.2 153.4,765.2 152.2,768.3 151.6,771.5 153.4,775.5 156.4,779.3 159.0,783.0 160.5,787.1 160.8,790.2 162.6,794.2 163.4,798.0 164.6,802.7 163.1,807.3 161.4,812.0 160.2,816.7 159.3,821.1 159.3,823.9 161.4,828.2 163.4,832.9 165.8,837.9 167.3,841.3 167.6,846.3 168.8,852.6 169.9,855.1 173.2,859.1 175.2,862.9 177.0,867.2 178.5,871.3 177.9,873.8 178.8,876.6 181.1,877.5 183.5,878.5 187.9,877.2 190.9,876.0 195.3,876.3 200.0,875.7 203.0,875.0 205.6,873.5 208.6,871.3 211.2,868.5 213.9,866.0 215.9,863.2 218.3,860.1 220.1,858.2 221.3,854.1 221.6,851.6 220.7,850.4 223.3,848.5 227.2,846.7 229.2,844.2 229.2,840.1 228.6,836.4 227.2,832.9 229.2,829.8 232.2,827.9 235.1,824.8 238.7,822.9 241.9,820.4 244.3,816.7 244.6,812.0 244.0,807.3 243.7,802.7 241.6,799.5 241.0,794.9 240.4,791.7 239.3,788.6 239.6,785.5 241.6,782.4 243.1,779.3 245.2,776.8 247.2,774.9 250.2,771.8 252.8,768.0 256.1,764.9 259.3,762.7 262.6,758.7 265.8,754.9 268.5,750.2 270.8,745.3 273.5,740.3 275.2,737.5 275.5,733.1 272.9,733.4 269.6,734.6 266.1,735.3 261.7,736.5 257.8,737.5 254.3,737.5 252.2,734.6 250.8,733.7 251.9,732.5 252.2,730.9 250.2,728.4 247.2,726.2 244.9,724.0 241.9,721.5 240.4,720.0 238.4,714.4 235.4,711.6 234.5,708.4 234.2,704.4 233.1,701.3 230.1,697.2 228.9,695.0 226.9,691.0 225.1,687.8 223.9,684.7 221.6,681.0 220.7,677.5 220.4,676.5 221.3,678.2 222.7,681.0 225.4,683.2 226.3,681.9 227.2,679.4 227.6,677.9 227.8,679.7 226.9,682.2 228.6,683.8 230.7,686.9 232.5,689.4 234.5,692.5 236.9,695.0 239.0,699.4 239.8,702.2 241.3,706.3 244.0,709.4 246.3,713.7 249.3,717.5 250.5,720.6 250.8,723.7 252.2,727.2 252.8,730.3 254.9,730.6 257.2,730.0 259.0,728.4 262.6,727.8 266.4,726.2 269.3,724.7 272.3,723.1 275.8,722.5 278.5,720.9 278.5,718.4 281.1,717.8 285.3,716.9 287.9,715.0 289.7,713.7 291.8,711.9 294.7,710.6 295.0,707.8 297.1,705.9 299.1,703.1 300.9,700.0 298.6,697.8 297.4,696.3 295.0,695.6 292.6,694.4 291.2,692.5 290.6,690.0 290.9,687.8 290.0,688.5 288.5,690.0 287.3,691.3 285.6,693.1 283.8,694.7 280.9,694.7 278.5,695.0 276.7,694.4 275.8,692.8 276.7,690.3 276.1,688.5 275.0,688.8 274.4,691.3 273.8,691.9 272.3,689.1 272.3,687.2 270.5,685.3 268.5,683.5 267.3,681.0 265.5,678.2 266.7,676.6 267.9,676.3 269.6,676.0 272.3,676.3 273.5,678.5 274.7,680.0 275.8,682.5 278.8,683.8 282.3,686.0 285.3,687.2 288.5,686.3 290.6,685.3 292.6,686.9 293.5,689.4 297.1,690.0 300.0,690.7 304.5,691.3M107.7,613.7 109.8,613.9 114.2,613.0 118.6,612.0 122.1,611.6 125.4,611.4 128.6,610.2 127.2,608.9 129.5,606.1 129.2,604.9 126.0,604.9 125.4,603.0 124.2,601.1 121.0,599.5 119.8,596.7 117.7,595.2 116.8,594.2 118.6,591.7 119.2,590.2 114.8,589.9 112.7,589.6 115.1,587.1 109.8,587.1 108.6,588.9 107.7,591.1 107.1,593.0 108.3,595.2 109.5,596.7 110.0,598.3 109.5,598.9 111.5,599.2 114.5,598.6 115.7,600.5 115.7,603.0 111.2,603.3 112.1,604.9 112.7,606.4 110.3,607.7 109.2,608.6 112.1,608.9 115.7,609.5 113.6,610.2 111.2,610.8 109.5,612.3ZM106.2,603.6 106.8,601.4 108.3,599.5 106.5,597.7 103.0,597.4 100.0,598.0 99.1,600.5 95.3,600.8 95.6,603.3 97.1,605.2 94.1,607.3 95.6,608.9 99.7,608.9 103.8,607.3 105.9,607.0 106.8,604.5ZM58.1,570.2 60.8,567.4 58.4,565.5 53.7,565.2 58.1,562.7 64.0,563.7 71.4,563.4 76.7,562.4 81.4,563.4 80.8,565.2 84.7,566.8 81.7,569.0 77.9,569.6 72.9,570.8 68.4,572.1 64.0,571.2 58.1,570.8ZM152.2,635.7 152.8,637.3 152.2,640.1 151.6,640.7 150.5,639.8 149.9,637.9 151.1,636.4ZM152.8,641.7 153.4,643.5 152.8,647.6 151.1,648.2 149.3,648.2 149.3,645.1 148.7,642.3 151.1,641.4ZM161.1,651.0 163.7,650.7 170.5,650.4 169.3,652.9 169.0,655.4 166.7,654.5 161.7,652.6ZM193.8,658.8 196.8,659.1 202.1,659.8 201.5,660.7 197.4,661.0 193.8,659.8ZM219.8,660.4 222.4,659.6 226.6,658.5 224.5,660.7 221.9,661.9 219.8,661.3ZM269.9,807.3 272.6,815.1 273.5,818.3 271.4,822.9 269.9,827.6 267.6,833.9 265.5,840.1 263.4,847.3 260.2,848.5 257.2,849.1 254.3,847.0 253.1,842.6 252.2,837.9 255.2,832.9 255.5,827.6 254.3,822.9 255.8,820.4 260.8,818.9 263.7,816.1 265.8,812.3 268.2,811.1ZM156.7,596.1 159.9,594.9 161.7,596.1 160.5,597.7 157.8,597.7ZM263.1,630.7 264.6,635.7 267.9,639.5 270.5,643.2 270.2,646.7 268.8,649.8 269.3,652.6 272.9,654.1 276.4,655.1 280.9,654.8 283.8,653.5 283.5,649.8 281.4,647.0 282.6,645.1 280.3,643.5 280.6,640.7 282.3,640.4 284.4,637.9 279.7,637.0 275.8,635.1 275.8,631.1 272.9,630.7 275.8,628.9 281.1,628.6 280.9,624.5 276.4,623.3 272.0,623.9 269.6,625.1 267.6,626.4 264.6,627.6Z"/><clipPath id="landBL"><path d="M304.5,555.9 301.5,555.2 297.1,555.6 292.6,556.2 286.8,555.9 283.8,556.8 279.4,556.2 273.5,557.1 270.2,558.7 265.5,560.5 261.7,560.9 258.7,559.9 255.8,557.7 254.0,556.5 252.2,557.7 250.2,561.5 247.2,563.7 242.8,565.5 238.1,567.4 233.7,569.6 229.2,569.3 226.6,565.5 223.3,563.0 220.4,560.9 224.8,561.8 230.7,563.0 235.7,563.7 241.0,563.4 244.9,562.1 245.4,559.6 242.8,558.1 236.6,556.2 230.7,554.6 226.3,553.7 220.4,552.4 215.9,551.8 213.0,550.9 210.6,549.9 207.1,548.7 202.7,548.1 200.6,547.9 195.3,548.7 189.4,550.3 185.0,551.2 180.6,552.1 177.6,553.4 172.6,555.9 169.3,557.4 169.6,558.1 168.2,559.9 165.8,561.5 163.4,563.4 161.4,564.6 159.9,566.5 156.9,568.0 154.0,569.6 151.1,571.5 148.1,572.7 145.2,574.0 142.2,575.2 139.8,576.5 139.2,579.0 139.2,581.5 140.1,584.3 141.0,586.4 142.2,588.0 145.2,588.9 148.1,588.6 151.1,587.1 154.0,585.8 155.5,584.3 156.1,583.0 156.9,585.2 157.5,586.1 157.8,587.4 159.3,589.6 159.9,591.4 161.7,593.3 162.6,595.8 162.8,597.1 166.4,597.1 167.3,595.2 171.4,594.9 172.9,593.3 173.5,590.5 174.1,588.3 177.0,586.4 179.1,584.6 180.0,582.4 176.1,580.8 175.5,577.4 177.3,574.6 180.0,572.4 185.0,570.8 187.9,568.3 190.3,565.5 193.8,564.6 198.8,565.9 199.4,567.1 196.8,568.7 193.8,570.2 190.3,572.1 187.3,573.3 187.9,576.5 187.6,579.0 187.9,580.8 190.9,582.4 195.3,582.4 199.7,581.8 204.2,581.1 208.9,580.8 211.5,582.1 213.9,583.0 210.1,583.3 207.4,584.3 201.2,584.3 196.2,584.6 193.8,585.2 193.8,587.1 196.2,588.0 196.5,590.2 195.9,592.1 193.5,591.7 191.2,590.2 188.8,590.5 186.7,592.4 186.4,594.6 186.7,596.1 185.3,598.3 183.2,598.6 181.7,600.2 179.4,600.2 179.4,598.9 176.1,598.9 171.7,600.5 167.3,601.7 165.2,601.1 162.8,599.9 160.5,600.8 157.2,601.4 156.7,600.2 154.6,600.2 154.0,598.9 154.9,596.4 155.5,594.6 156.7,593.9 155.2,593.3 154.9,591.1 155.8,589.9 153.7,590.5 151.9,591.7 149.9,591.7 148.7,593.3 148.4,595.8 149.9,597.4 150.2,598.6 150.8,600.5 149.6,602.7 145.7,602.7 143.7,603.3 139.8,603.3 138.7,604.9 137.8,606.7 136.3,608.0 134.8,609.2 131.9,610.5 129.2,611.1 129.2,613.3 125.1,614.8 121.0,615.9 120.7,614.8 118.9,614.8 119.8,617.6 117.1,618.3 114.2,617.6 110.6,618.6 111.8,620.5 115.7,621.7 118.0,622.9 118.9,624.5 121.0,626.4 121.0,629.5 120.7,632.0 119.8,634.5 117.1,634.5 112.7,634.3 107.7,633.9 102.4,633.4 100.0,634.2 97.4,635.4 98.2,638.2 98.8,641.4 98.0,644.5 96.5,648.8 98.2,649.8 98.5,651.7 98.2,654.5 102.4,653.8 105.9,655.1 108.0,657.6 111.5,655.4 118.0,655.4 120.1,653.2 122.7,652.6 125.1,648.8 123.6,646.7 126.0,643.5 127.5,642.0 131.0,640.7 133.9,639.2 133.6,636.1 136.3,634.2 139.2,634.8 142.8,635.4 146.6,633.2 150.5,631.4 154.0,632.6 155.5,635.7 157.2,637.6 160.5,639.5 162.8,641.4 166.1,642.6 168.2,643.2 170.8,645.4 172.0,648.8 170.8,651.3 172.0,651.3 173.5,649.8 174.9,647.9 173.5,646.3 174.9,643.5 177.6,644.5 179.1,644.8 178.5,643.2 175.2,642.0 172.0,640.4 171.4,639.2 168.2,638.5 165.5,636.1 164.3,633.9 160.8,631.4 161.1,628.9 163.1,627.3 164.9,627.3 164.6,629.2 165.8,630.1 167.3,628.6 169.3,631.7 171.4,633.9 173.5,634.8 176.1,635.7 179.1,637.6 181.7,639.2 182.0,641.4 181.7,643.9 183.5,646.3 185.6,648.2 186.7,650.4 188.2,653.5 189.1,655.1 190.6,656.0 191.8,654.5 192.9,656.3 192.6,653.5 193.8,652.9 195.3,652.3 193.5,651.0 195.0,650.1 191.8,648.2 193.2,647.6 191.2,643.9 192.4,643.2 194.7,643.9 196.2,644.5 195.3,642.6 198.2,642.1 201.2,642.6 202.1,643.2 204.2,642.3 207.1,642.0 210.1,641.8 207.7,640.4 207.1,638.9 206.8,637.0 207.1,634.8 208.9,633.2 209.5,631.1 211.8,629.5 212.4,627.6 214.2,626.1 215.4,624.5 217.4,624.5 219.5,624.8 221.9,626.1 220.4,628.3 222.7,628.9 223.3,630.7 225.4,631.2 228.3,630.1 230.7,629.5 232.5,628.3 229.2,628.3 227.8,627.3 228.6,625.4 232.2,624.2 235.1,623.3 238.1,622.6 240.4,622.6 237.2,624.8 236.6,626.4 235.7,627.6 234.2,628.6 232.8,629.2 234.5,630.1 236.6,631.4 239.6,632.6 241.9,634.2 244.0,635.7 246.9,638.2 247.2,640.1 245.4,641.7 242.5,642.1 239.6,642.0 236.6,642.3 233.7,641.4 231.3,639.8 228.3,638.9 224.8,638.9 221.9,639.2 218.9,640.1 215.9,641.7 213.0,641.5 210.6,641.4 211.5,642.9 210.3,643.9 207.1,643.9 205.0,643.9 202.4,644.8 201.8,646.7 203.9,647.3 203.6,648.8 202.4,649.8 203.9,650.4 204.7,652.0 205.0,653.8 205.9,655.1 207.7,655.7 210.3,655.7 212.1,657.0 214.8,655.1 217.4,655.4 220.4,657.3 223.6,657.0 225.7,655.7 227.8,655.4 229.5,655.7 231.3,655.1 230.7,657.6 230.1,659.1 230.4,661.0 229.5,663.2 228.3,666.0 227.5,668.5 226.6,670.7 225.4,672.2 223.3,672.9 220.1,672.6 218.3,671.6 215.9,671.3 213.9,671.9 211.5,673.2 208.6,673.5 205.6,672.2 199.7,671.3 196.8,670.1 192.9,669.1 189.4,667.3 186.4,667.6 183.8,669.1 183.2,671.3 182.3,674.4 180.0,674.7 177.6,673.8 174.7,672.9 171.7,672.2 169.9,670.7 169.3,669.1 165.8,667.9 162.8,667.3 159.9,667.3 157.8,666.3 156.4,665.1 154.9,664.4 154.0,662.9 156.1,661.6 157.2,660.1 156.1,658.8 155.5,657.3 156.9,655.7 157.2,654.1 154.9,655.1 154.6,653.8 153.4,653.5 151.1,654.1 149.6,654.8 146.6,654.5 143.7,654.5 140.1,655.4 136.3,654.8 133.3,655.1 130.4,655.7 127.5,656.3 124.5,657.9 121.5,658.8 118.0,660.4 115.7,659.8 111.8,660.1 108.9,657.9 107.1,658.2 106.2,659.8 105.0,662.3 103.0,664.4 100.0,666.0 98.0,668.2 97.1,670.1 95.6,672.2 96.2,675.1 95.0,677.9 92.0,680.4 89.1,682.2 86.4,682.9 84.4,685.0 82.6,687.8 81.1,691.0 79.1,693.8 77.3,695.6 76.4,698.1 74.9,700.6 74.1,704.4 74.9,707.2 76.4,709.1 76.7,712.2 77.0,715.3 75.8,719.0 74.6,722.2 72.9,724.0 74.3,725.6 74.9,728.1 74.9,731.2 76.1,732.5 78.5,734.0 80.2,735.9 81.7,737.8 84.1,739.6 85.6,742.1 86.4,744.9 88.5,747.1 90.9,748.7 93.5,750.9 97.1,753.7 100.9,755.9 102.4,756.3 106.8,754.6 111.2,753.7 115.7,754.0 118.6,754.9 121.5,753.4 124.5,752.1 128.0,750.9 131.9,750.1 134.8,749.9 137.8,750.6 139.8,752.4 141.6,755.5 143.7,756.5 146.6,755.9 149.0,755.5 150.5,757.1 152.5,758.4 153.4,761.2 153.4,765.2 152.2,768.3 151.6,771.5 153.4,775.5 156.4,779.3 159.0,783.0 160.5,787.1 160.8,790.2 162.6,794.2 163.4,798.0 164.6,802.7 163.1,807.3 161.4,812.0 160.2,816.7 159.3,821.1 159.3,823.9 161.4,828.2 163.4,832.9 165.8,837.9 167.3,841.3 167.6,846.3 168.8,852.6 169.9,855.1 173.2,859.1 175.2,862.9 177.0,867.2 178.5,871.3 177.9,873.8 178.8,876.6 181.1,877.5 183.5,878.5 187.9,877.2 190.9,876.0 195.3,876.3 200.0,875.7 203.0,875.0 205.6,873.5 208.6,871.3 211.2,868.5 213.9,866.0 215.9,863.2 218.3,860.1 220.1,858.2 221.3,854.1 221.6,851.6 220.7,850.4 223.3,848.5 227.2,846.7 229.2,844.2 229.2,840.1 228.6,836.4 227.2,832.9 229.2,829.8 232.2,827.9 235.1,824.8 238.7,822.9 241.9,820.4 244.3,816.7 244.6,812.0 244.0,807.3 243.7,802.7 241.6,799.5 241.0,794.9 240.4,791.7 239.3,788.6 239.6,785.5 241.6,782.4 243.1,779.3 245.2,776.8 247.2,774.9 250.2,771.8 252.8,768.0 256.1,764.9 259.3,762.7 262.6,758.7 265.8,754.9 268.5,750.2 270.8,745.3 273.5,740.3 275.2,737.5 275.5,733.1 272.9,733.4 269.6,734.6 266.1,735.3 261.7,736.5 257.8,737.5 254.3,737.5 252.2,734.6 250.8,733.7 251.9,732.5 252.2,730.9 250.2,728.4 247.2,726.2 244.9,724.0 241.9,721.5 240.4,720.0 238.4,714.4 235.4,711.6 234.5,708.4 234.2,704.4 233.1,701.3 230.1,697.2 228.9,695.0 226.9,691.0 225.1,687.8 223.9,684.7 221.6,681.0 220.7,677.5 220.4,676.5 221.3,678.2 222.7,681.0 225.4,683.2 226.3,681.9 227.2,679.4 227.6,677.9 227.8,679.7 226.9,682.2 228.6,683.8 230.7,686.9 232.5,689.4 234.5,692.5 236.9,695.0 239.0,699.4 239.8,702.2 241.3,706.3 244.0,709.4 246.3,713.7 249.3,717.5 250.5,720.6 250.8,723.7 252.2,727.2 252.8,730.3 254.9,730.6 257.2,730.0 259.0,728.4 262.6,727.8 266.4,726.2 269.3,724.7 272.3,723.1 275.8,722.5 278.5,720.9 278.5,718.4 281.1,717.8 285.3,716.9 287.9,715.0 289.7,713.7 291.8,711.9 294.7,710.6 295.0,707.8 297.1,705.9 299.1,703.1 300.9,700.0 298.6,697.8 297.4,696.3 295.0,695.6 292.6,694.4 291.2,692.5 290.6,690.0 290.9,687.8 290.0,688.5 288.5,690.0 287.3,691.3 285.6,693.1 283.8,694.7 280.9,694.7 278.5,695.0 276.7,694.4 275.8,692.8 276.7,690.3 276.1,688.5 275.0,688.8 274.4,691.3 273.8,691.9 272.3,689.1 272.3,687.2 270.5,685.3 268.5,683.5 267.3,681.0 265.5,678.2 266.7,676.6 267.9,676.3 269.6,676.0 272.3,676.3 273.5,678.5 274.7,680.0 275.8,682.5 278.8,683.8 282.3,686.0 285.3,687.2 288.5,686.3 290.6,685.3 292.6,686.9 293.5,689.4 297.1,690.0 300.0,690.7 304.5,691.3Z"/></clipPath><clipPath id="landBR"><path transform="translate(323,0)" d="M304.5,555.9 301.5,555.2 297.1,555.6 292.6,556.2 286.8,555.9 283.8,556.8 279.4,556.2 273.5,557.1 270.2,558.7 265.5,560.5 261.7,560.9 258.7,559.9 255.8,557.7 254.0,556.5 252.2,557.7 250.2,561.5 247.2,563.7 242.8,565.5 238.1,567.4 233.7,569.6 229.2,569.3 226.6,565.5 223.3,563.0 220.4,560.9 224.8,561.8 230.7,563.0 235.7,563.7 241.0,563.4 244.9,562.1 245.4,559.6 242.8,558.1 236.6,556.2 230.7,554.6 226.3,553.7 220.4,552.4 215.9,551.8 213.0,550.9 210.6,549.9 207.1,548.7 202.7,548.1 200.6,547.9 195.3,548.7 189.4,550.3 185.0,551.2 180.6,552.1 177.6,553.4 172.6,555.9 169.3,557.4 169.6,558.1 168.2,559.9 165.8,561.5 163.4,563.4 161.4,564.6 159.9,566.5 156.9,568.0 154.0,569.6 151.1,571.5 148.1,572.7 145.2,574.0 142.2,575.2 139.8,576.5 139.2,579.0 139.2,581.5 140.1,584.3 141.0,586.4 142.2,588.0 145.2,588.9 148.1,588.6 151.1,587.1 154.0,585.8 155.5,584.3 156.1,583.0 156.9,585.2 157.5,586.1 157.8,587.4 159.3,589.6 159.9,591.4 161.7,593.3 162.6,595.8 162.8,597.1 166.4,597.1 167.3,595.2 171.4,594.9 172.9,593.3 173.5,590.5 174.1,588.3 177.0,586.4 179.1,584.6 180.0,582.4 176.1,580.8 175.5,577.4 177.3,574.6 180.0,572.4 185.0,570.8 187.9,568.3 190.3,565.5 193.8,564.6 198.8,565.9 199.4,567.1 196.8,568.7 193.8,570.2 190.3,572.1 187.3,573.3 187.9,576.5 187.6,579.0 187.9,580.8 190.9,582.4 195.3,582.4 199.7,581.8 204.2,581.1 208.9,580.8 211.5,582.1 213.9,583.0 210.1,583.3 207.4,584.3 201.2,584.3 196.2,584.6 193.8,585.2 193.8,587.1 196.2,588.0 196.5,590.2 195.9,592.1 193.5,591.7 191.2,590.2 188.8,590.5 186.7,592.4 186.4,594.6 186.7,596.1 185.3,598.3 183.2,598.6 181.7,600.2 179.4,600.2 179.4,598.9 176.1,598.9 171.7,600.5 167.3,601.7 165.2,601.1 162.8,599.9 160.5,600.8 157.2,601.4 156.7,600.2 154.6,600.2 154.0,598.9 154.9,596.4 155.5,594.6 156.7,593.9 155.2,593.3 154.9,591.1 155.8,589.9 153.7,590.5 151.9,591.7 149.9,591.7 148.7,593.3 148.4,595.8 149.9,597.4 150.2,598.6 150.8,600.5 149.6,602.7 145.7,602.7 143.7,603.3 139.8,603.3 138.7,604.9 137.8,606.7 136.3,608.0 134.8,609.2 131.9,610.5 129.2,611.1 129.2,613.3 125.1,614.8 121.0,615.9 120.7,614.8 118.9,614.8 119.8,617.6 117.1,618.3 114.2,617.6 110.6,618.6 111.8,620.5 115.7,621.7 118.0,622.9 118.9,624.5 121.0,626.4 121.0,629.5 120.7,632.0 119.8,634.5 117.1,634.5 112.7,634.3 107.7,633.9 102.4,633.4 100.0,634.2 97.4,635.4 98.2,638.2 98.8,641.4 98.0,644.5 96.5,648.8 98.2,649.8 98.5,651.7 98.2,654.5 102.4,653.8 105.9,655.1 108.0,657.6 111.5,655.4 118.0,655.4 120.1,653.2 122.7,652.6 125.1,648.8 123.6,646.7 126.0,643.5 127.5,642.0 131.0,640.7 133.9,639.2 133.6,636.1 136.3,634.2 139.2,634.8 142.8,635.4 146.6,633.2 150.5,631.4 154.0,632.6 155.5,635.7 157.2,637.6 160.5,639.5 162.8,641.4 166.1,642.6 168.2,643.2 170.8,645.4 172.0,648.8 170.8,651.3 172.0,651.3 173.5,649.8 174.9,647.9 173.5,646.3 174.9,643.5 177.6,644.5 179.1,644.8 178.5,643.2 175.2,642.0 172.0,640.4 171.4,639.2 168.2,638.5 165.5,636.1 164.3,633.9 160.8,631.4 161.1,628.9 163.1,627.3 164.9,627.3 164.6,629.2 165.8,630.1 167.3,628.6 169.3,631.7 171.4,633.9 173.5,634.8 176.1,635.7 179.1,637.6 181.7,639.2 182.0,641.4 181.7,643.9 183.5,646.3 185.6,648.2 186.7,650.4 188.2,653.5 189.1,655.1 190.6,656.0 191.8,654.5 192.9,656.3 192.6,653.5 193.8,652.9 195.3,652.3 193.5,651.0 195.0,650.1 191.8,648.2 193.2,647.6 191.2,643.9 192.4,643.2 194.7,643.9 196.2,644.5 195.3,642.6 198.2,642.1 201.2,642.6 202.1,643.2 204.2,642.3 207.1,642.0 210.1,641.8 207.7,640.4 207.1,638.9 206.8,637.0 207.1,634.8 208.9,633.2 209.5,631.1 211.8,629.5 212.4,627.6 214.2,626.1 215.4,624.5 217.4,624.5 219.5,624.8 221.9,626.1 220.4,628.3 222.7,628.9 223.3,630.7 225.4,631.2 228.3,630.1 230.7,629.5 232.5,628.3 229.2,628.3 227.8,627.3 228.6,625.4 232.2,624.2 235.1,623.3 238.1,622.6 240.4,622.6 237.2,624.8 236.6,626.4 235.7,627.6 234.2,628.6 232.8,629.2 234.5,630.1 236.6,631.4 239.6,632.6 241.9,634.2 244.0,635.7 246.9,638.2 247.2,640.1 245.4,641.7 242.5,642.1 239.6,642.0 236.6,642.3 233.7,641.4 231.3,639.8 228.3,638.9 224.8,638.9 221.9,639.2 218.9,640.1 215.9,641.7 213.0,641.5 210.6,641.4 211.5,642.9 210.3,643.9 207.1,643.9 205.0,643.9 202.4,644.8 201.8,646.7 203.9,647.3 203.6,648.8 202.4,649.8 203.9,650.4 204.7,652.0 205.0,653.8 205.9,655.1 207.7,655.7 210.3,655.7 212.1,657.0 214.8,655.1 217.4,655.4 220.4,657.3 223.6,657.0 225.7,655.7 227.8,655.4 229.5,655.7 231.3,655.1 230.7,657.6 230.1,659.1 230.4,661.0 229.5,663.2 228.3,666.0 227.5,668.5 226.6,670.7 225.4,672.2 223.3,672.9 220.1,672.6 218.3,671.6 215.9,671.3 213.9,671.9 211.5,673.2 208.6,673.5 205.6,672.2 199.7,671.3 196.8,670.1 192.9,669.1 189.4,667.3 186.4,667.6 183.8,669.1 183.2,671.3 182.3,674.4 180.0,674.7 177.6,673.8 174.7,672.9 171.7,672.2 169.9,670.7 169.3,669.1 165.8,667.9 162.8,667.3 159.9,667.3 157.8,666.3 156.4,665.1 154.9,664.4 154.0,662.9 156.1,661.6 157.2,660.1 156.1,658.8 155.5,657.3 156.9,655.7 157.2,654.1 154.9,655.1 154.6,653.8 153.4,653.5 151.1,654.1 149.6,654.8 146.6,654.5 143.7,654.5 140.1,655.4 136.3,654.8 133.3,655.1 130.4,655.7 127.5,656.3 124.5,657.9 121.5,658.8 118.0,660.4 115.7,659.8 111.8,660.1 108.9,657.9 107.1,658.2 106.2,659.8 105.0,662.3 103.0,664.4 100.0,666.0 98.0,668.2 97.1,670.1 95.6,672.2 96.2,675.1 95.0,677.9 92.0,680.4 89.1,682.2 86.4,682.9 84.4,685.0 82.6,687.8 81.1,691.0 79.1,693.8 77.3,695.6 76.4,698.1 74.9,700.6 74.1,704.4 74.9,707.2 76.4,709.1 76.7,712.2 77.0,715.3 75.8,719.0 74.6,722.2 72.9,724.0 74.3,725.6 74.9,728.1 74.9,731.2 76.1,732.5 78.5,734.0 80.2,735.9 81.7,737.8 84.1,739.6 85.6,742.1 86.4,744.9 88.5,747.1 90.9,748.7 93.5,750.9 97.1,753.7 100.9,755.9 102.4,756.3 106.8,754.6 111.2,753.7 115.7,754.0 118.6,754.9 121.5,753.4 124.5,752.1 128.0,750.9 131.9,750.1 134.8,749.9 137.8,750.6 139.8,752.4 141.6,755.5 143.7,756.5 146.6,755.9 149.0,755.5 150.5,757.1 152.5,758.4 153.4,761.2 153.4,765.2 152.2,768.3 151.6,771.5 153.4,775.5 156.4,779.3 159.0,783.0 160.5,787.1 160.8,790.2 162.6,794.2 163.4,798.0 164.6,802.7 163.1,807.3 161.4,812.0 160.2,816.7 159.3,821.1 159.3,823.9 161.4,828.2 163.4,832.9 165.8,837.9 167.3,841.3 167.6,846.3 168.8,852.6 169.9,855.1 173.2,859.1 175.2,862.9 177.0,867.2 178.5,871.3 177.9,873.8 178.8,876.6 181.1,877.5 183.5,878.5 187.9,877.2 190.9,876.0 195.3,876.3 200.0,875.7 203.0,875.0 205.6,873.5 208.6,871.3 211.2,868.5 213.9,866.0 215.9,863.2 218.3,860.1 220.1,858.2 221.3,854.1 221.6,851.6 220.7,850.4 223.3,848.5 227.2,846.7 229.2,844.2 229.2,840.1 228.6,836.4 227.2,832.9 229.2,829.8 232.2,827.9 235.1,824.8 238.7,822.9 241.9,820.4 244.3,816.7 244.6,812.0 244.0,807.3 243.7,802.7 241.6,799.5 241.0,794.9 240.4,791.7 239.3,788.6 239.6,785.5 241.6,782.4 243.1,779.3 245.2,776.8 247.2,774.9 250.2,771.8 252.8,768.0 256.1,764.9 259.3,762.7 262.6,758.7 265.8,754.9 268.5,750.2 270.8,745.3 273.5,740.3 275.2,737.5 275.5,733.1 272.9,733.4 269.6,734.6 266.1,735.3 261.7,736.5 257.8,737.5 254.3,737.5 252.2,734.6 250.8,733.7 251.9,732.5 252.2,730.9 250.2,728.4 247.2,726.2 244.9,724.0 241.9,721.5 240.4,720.0 238.4,714.4 235.4,711.6 234.5,708.4 234.2,704.4 233.1,701.3 230.1,697.2 228.9,695.0 226.9,691.0 225.1,687.8 223.9,684.7 221.6,681.0 220.7,677.5 220.4,676.5 221.3,678.2 222.7,681.0 225.4,683.2 226.3,681.9 227.2,679.4 227.6,677.9 227.8,679.7 226.9,682.2 228.6,683.8 230.7,686.9 232.5,689.4 234.5,692.5 236.9,695.0 239.0,699.4 239.8,702.2 241.3,706.3 244.0,709.4 246.3,713.7 249.3,717.5 250.5,720.6 250.8,723.7 252.2,727.2 252.8,730.3 254.9,730.6 257.2,730.0 259.0,728.4 262.6,727.8 266.4,726.2 269.3,724.7 272.3,723.1 275.8,722.5 278.5,720.9 278.5,718.4 281.1,717.8 285.3,716.9 287.9,715.0 289.7,713.7 291.8,711.9 294.7,710.6 295.0,707.8 297.1,705.9 299.1,703.1 300.9,700.0 298.6,697.8 297.4,696.3 295.0,695.6 292.6,694.4 291.2,692.5 290.6,690.0 290.9,687.8 290.0,688.5 288.5,690.0 287.3,691.3 285.6,693.1 283.8,694.7 280.9,694.7 278.5,695.0 276.7,694.4 275.8,692.8 276.7,690.3 276.1,688.5 275.0,688.8 274.4,691.3 273.8,691.9 272.3,689.1 272.3,687.2 270.5,685.3 268.5,683.5 267.3,681.0 265.5,678.2 266.7,676.6 267.9,676.3 269.6,676.0 272.3,676.3 273.5,678.5 274.7,680.0 275.8,682.5 278.8,683.8 282.3,686.0 285.3,687.2 288.5,686.3 290.6,685.3 292.6,686.9 293.5,689.4 297.1,690.0 300.0,690.7 304.5,691.3Z"/></clipPath><clipPath id="grayBL"><path d="M40.0,746.0 130.0,747.8 223.0,755.0 270.0,758.4 300.0,760.0 300.0,892.0 40.0,892.0Z"/></clipPath><g id="bfA"><path d="M-9.6,0.8 C-8.2,-0.6 -7,-3.2 -5,-5.3 C-3.4,-6.9 -1.5,-7.3 0,-6.4 C1.5,-7.3 3.4,-6.9 5,-5.3 C7,-3.2 8.2,-0.6 9.6,0.8 C6,0.5 3,1.1 0,1.3 C-3,1.1 -6,0.5 -9.6,0.8Z" fill="#cf601a"/><path d="M-5.5,-4.6 C-4,-6 -2.2,-6.4 -1,-6 L-1.2,-3 C-3,-3.5 -4.5,-3.5 -5.5,-4.6Z M5.5,-4.6 C4,-6 2.2,-6.4 1,-6 L1.2,-3 C3,-3.5 4.5,-3.5 5.5,-4.6Z" fill="#f08a2a"/><path d="M-9.8,0.9 L-7.4,-2.1 L-6.2,-0.4 L-4.8,0.7Z M9.8,0.9 L7.4,-2.1 L6.2,-0.4 L4.8,0.7Z" fill="#2a2020"/><path d="M-1.1,-6.2 L1.1,-6.2 L0.9,1.3 L-0.9,1.3Z" fill="#8a7c68"/><path d="M-6.5,-1.5 L-4.5,-2.2 L-3.5,-0.5Z M6.5,-1.5 L4.5,-2.2 L3.5,-0.5Z" fill="#5a3018"/><circle cx="-3" cy="-0.2" r="0.7" fill="#f5c040"/><circle cx="3" cy="-0.2" r="0.7" fill="#f5c040"/><g fill="#8c3a12"><circle cx="-5.6" cy="-3.2" r="0.8"/><circle cx="5.6" cy="-3.2" r="0.8"/><circle cx="-2.6" cy="-4.6" r="0.7"/><circle cx="2.6" cy="-4.6" r="0.7"/><circle cx="-7.2" cy="-0.6" r="0.6"/><circle cx="7.2" cy="-0.6" r="0.6"/><circle cx="-2" cy="-2" r="0.6"/><circle cx="2" cy="-2" r="0.6"/></g></g><g id="bfB"><path d="M-9.6,-2.8 C-5,-2.4 -2,-2.2 0,-2 C2,-2.2 5,-2.4 9.6,-2.8 C8.6,-1 7.4,0.5 5.5,1.6 C5.8,3.6 4,5 1.2,5 L0,4.2 L-1.2,5 C-4,5 -5.8,3.6 -5.5,1.6 C-7.4,0.5 -8.6,-1 -9.6,-2.8Z" fill="#cc5a18"/><path d="M-9.6,-2.8 L-5.4,-2.5 L-6.6,0.4 C-7.8,-0.4 -8.8,-1.5 -9.6,-2.8Z M9.6,-2.8 L5.4,-2.5 L6.6,0.4 C7.8,-0.4 8.8,-1.5 9.6,-2.8Z" fill="#2e2422"/><path d="M-1.2,-2.1 L1.2,-2.1 L1,4.2 L-1,4.2Z" fill="#8a7c6a"/><path d="M-4.6,-1.4 L-2.6,-1.6 L-3.2,0.3Z M4.6,-1.4 L2.6,-1.6 L3.2,0.3Z" fill="#f2b040"/><path d="M-5.6,2.2 C-5,3.9 -3.4,4.6 -1.5,4.7 M5.6,2.2 C5,3.9 3.4,4.6 1.5,4.7" fill="none" stroke="#8a3a12" stroke-width="0.6"/><g fill="#8c3a12"><circle cx="-3.4" cy="2" r="0.7"/><circle cx="3.4" cy="2" r="0.7"/><circle cx="-5" cy="-0.6" r="0.5"/><circle cx="5" cy="-0.6" r="0.5"/></g></g></defs><g><g clip-path="url(#grayBL)"><path d="M304.5,555.9 301.5,555.2 297.1,555.6 292.6,556.2 286.8,555.9 283.8,556.8 279.4,556.2 273.5,557.1 270.2,558.7 265.5,560.5 261.7,560.9 258.7,559.9 255.8,557.7 254.0,556.5 252.2,557.7 250.2,561.5 247.2,563.7 242.8,565.5 238.1,567.4 233.7,569.6 229.2,569.3 226.6,565.5 223.3,563.0 220.4,560.9 224.8,561.8 230.7,563.0 235.7,563.7 241.0,563.4 244.9,562.1 245.4,559.6 242.8,558.1 236.6,556.2 230.7,554.6 226.3,553.7 220.4,552.4 215.9,551.8 213.0,550.9 210.6,549.9 207.1,548.7 202.7,548.1 200.6,547.9 195.3,548.7 189.4,550.3 185.0,551.2 180.6,552.1 177.6,553.4 172.6,555.9 169.3,557.4 169.6,558.1 168.2,559.9 165.8,561.5 163.4,563.4 161.4,564.6 159.9,566.5 156.9,568.0 154.0,569.6 151.1,571.5 148.1,572.7 145.2,574.0 142.2,575.2 139.8,576.5 139.2,579.0 139.2,581.5 140.1,584.3 141.0,586.4 142.2,588.0 145.2,588.9 148.1,588.6 151.1,587.1 154.0,585.8 155.5,584.3 156.1,583.0 156.9,585.2 157.5,586.1 157.8,587.4 159.3,589.6 159.9,591.4 161.7,593.3 162.6,595.8 162.8,597.1 166.4,597.1 167.3,595.2 171.4,594.9 172.9,593.3 173.5,590.5 174.1,588.3 177.0,586.4 179.1,584.6 180.0,582.4 176.1,580.8 175.5,577.4 177.3,574.6 180.0,572.4 185.0,570.8 187.9,568.3 190.3,565.5 193.8,564.6 198.8,565.9 199.4,567.1 196.8,568.7 193.8,570.2 190.3,572.1 187.3,573.3 187.9,576.5 187.6,579.0 187.9,580.8 190.9,582.4 195.3,582.4 199.7,581.8 204.2,581.1 208.9,580.8 211.5,582.1 213.9,583.0 210.1,583.3 207.4,584.3 201.2,584.3 196.2,584.6 193.8,585.2 193.8,587.1 196.2,588.0 196.5,590.2 195.9,592.1 193.5,591.7 191.2,590.2 188.8,590.5 186.7,592.4 186.4,594.6 186.7,596.1 185.3,598.3 183.2,598.6 181.7,600.2 179.4,600.2 179.4,598.9 176.1,598.9 171.7,600.5 167.3,601.7 165.2,601.1 162.8,599.9 160.5,600.8 157.2,601.4 156.7,600.2 154.6,600.2 154.0,598.9 154.9,596.4 155.5,594.6 156.7,593.9 155.2,593.3 154.9,591.1 155.8,589.9 153.7,590.5 151.9,591.7 149.9,591.7 148.7,593.3 148.4,595.8 149.9,597.4 150.2,598.6 150.8,600.5 149.6,602.7 145.7,602.7 143.7,603.3 139.8,603.3 138.7,604.9 137.8,606.7 136.3,608.0 134.8,609.2 131.9,610.5 129.2,611.1 129.2,613.3 125.1,614.8 121.0,615.9 120.7,614.8 118.9,614.8 119.8,617.6 117.1,618.3 114.2,617.6 110.6,618.6 111.8,620.5 115.7,621.7 118.0,622.9 118.9,624.5 121.0,626.4 121.0,629.5 120.7,632.0 119.8,634.5 117.1,634.5 112.7,634.3 107.7,633.9 102.4,633.4 100.0,634.2 97.4,635.4 98.2,638.2 98.8,641.4 98.0,644.5 96.5,648.8 98.2,649.8 98.5,651.7 98.2,654.5 102.4,653.8 105.9,655.1 108.0,657.6 111.5,655.4 118.0,655.4 120.1,653.2 122.7,652.6 125.1,648.8 123.6,646.7 126.0,643.5 127.5,642.0 131.0,640.7 133.9,639.2 133.6,636.1 136.3,634.2 139.2,634.8 142.8,635.4 146.6,633.2 150.5,631.4 154.0,632.6 155.5,635.7 157.2,637.6 160.5,639.5 162.8,641.4 166.1,642.6 168.2,643.2 170.8,645.4 172.0,648.8 170.8,651.3 172.0,651.3 173.5,649.8 174.9,647.9 173.5,646.3 174.9,643.5 177.6,644.5 179.1,644.8 178.5,643.2 175.2,642.0 172.0,640.4 171.4,639.2 168.2,638.5 165.5,636.1 164.3,633.9 160.8,631.4 161.1,628.9 163.1,627.3 164.9,627.3 164.6,629.2 165.8,630.1 167.3,628.6 169.3,631.7 171.4,633.9 173.5,634.8 176.1,635.7 179.1,637.6 181.7,639.2 182.0,641.4 181.7,643.9 183.5,646.3 185.6,648.2 186.7,650.4 188.2,653.5 189.1,655.1 190.6,656.0 191.8,654.5 192.9,656.3 192.6,653.5 193.8,652.9 195.3,652.3 193.5,651.0 195.0,650.1 191.8,648.2 193.2,647.6 191.2,643.9 192.4,643.2 194.7,643.9 196.2,644.5 195.3,642.6 198.2,642.1 201.2,642.6 202.1,643.2 204.2,642.3 207.1,642.0 210.1,641.8 207.7,640.4 207.1,638.9 206.8,637.0 207.1,634.8 208.9,633.2 209.5,631.1 211.8,629.5 212.4,627.6 214.2,626.1 215.4,624.5 217.4,624.5 219.5,624.8 221.9,626.1 220.4,628.3 222.7,628.9 223.3,630.7 225.4,631.2 228.3,630.1 230.7,629.5 232.5,628.3 229.2,628.3 227.8,627.3 228.6,625.4 232.2,624.2 235.1,623.3 238.1,622.6 240.4,622.6 237.2,624.8 236.6,626.4 235.7,627.6 234.2,628.6 232.8,629.2 234.5,630.1 236.6,631.4 239.6,632.6 241.9,634.2 244.0,635.7 246.9,638.2 247.2,640.1 245.4,641.7 242.5,642.1 239.6,642.0 236.6,642.3 233.7,641.4 231.3,639.8 228.3,638.9 224.8,638.9 221.9,639.2 218.9,640.1 215.9,641.7 213.0,641.5 210.6,641.4 211.5,642.9 210.3,643.9 207.1,643.9 205.0,643.9 202.4,644.8 201.8,646.7 203.9,647.3 203.6,648.8 202.4,649.8 203.9,650.4 204.7,652.0 205.0,653.8 205.9,655.1 207.7,655.7 210.3,655.7 212.1,657.0 214.8,655.1 217.4,655.4 220.4,657.3 223.6,657.0 225.7,655.7 227.8,655.4 229.5,655.7 231.3,655.1 230.7,657.6 230.1,659.1 230.4,661.0 229.5,663.2 228.3,666.0 227.5,668.5 226.6,670.7 225.4,672.2 223.3,672.9 220.1,672.6 218.3,671.6 215.9,671.3 213.9,671.9 211.5,673.2 208.6,673.5 205.6,672.2 199.7,671.3 196.8,670.1 192.9,669.1 189.4,667.3 186.4,667.6 183.8,669.1 183.2,671.3 182.3,674.4 180.0,674.7 177.6,673.8 174.7,672.9 171.7,672.2 169.9,670.7 169.3,669.1 165.8,667.9 162.8,667.3 159.9,667.3 157.8,666.3 156.4,665.1 154.9,664.4 154.0,662.9 156.1,661.6 157.2,660.1 156.1,658.8 155.5,657.3 156.9,655.7 157.2,654.1 154.9,655.1 154.6,653.8 153.4,653.5 151.1,654.1 149.6,654.8 146.6,654.5 143.7,654.5 140.1,655.4 136.3,654.8 133.3,655.1 130.4,655.7 127.5,656.3 124.5,657.9 121.5,658.8 118.0,660.4 115.7,659.8 111.8,660.1 108.9,657.9 107.1,658.2 106.2,659.8 105.0,662.3 103.0,664.4 100.0,666.0 98.0,668.2 97.1,670.1 95.6,672.2 96.2,675.1 95.0,677.9 92.0,680.4 89.1,682.2 86.4,682.9 84.4,685.0 82.6,687.8 81.1,691.0 79.1,693.8 77.3,695.6 76.4,698.1 74.9,700.6 74.1,704.4 74.9,707.2 76.4,709.1 76.7,712.2 77.0,715.3 75.8,719.0 74.6,722.2 72.9,724.0 74.3,725.6 74.9,728.1 74.9,731.2 76.1,732.5 78.5,734.0 80.2,735.9 81.7,737.8 84.1,739.6 85.6,742.1 86.4,744.9 88.5,747.1 90.9,748.7 93.5,750.9 97.1,753.7 100.9,755.9 102.4,756.3 106.8,754.6 111.2,753.7 115.7,754.0 118.6,754.9 121.5,753.4 124.5,752.1 128.0,750.9 131.9,750.1 134.8,749.9 137.8,750.6 139.8,752.4 141.6,755.5 143.7,756.5 146.6,755.9 149.0,755.5 150.5,757.1 152.5,758.4 153.4,761.2 153.4,765.2 152.2,768.3 151.6,771.5 153.4,775.5 156.4,779.3 159.0,783.0 160.5,787.1 160.8,790.2 162.6,794.2 163.4,798.0 164.6,802.7 163.1,807.3 161.4,812.0 160.2,816.7 159.3,821.1 159.3,823.9 161.4,828.2 163.4,832.9 165.8,837.9 167.3,841.3 167.6,846.3 168.8,852.6 169.9,855.1 173.2,859.1 175.2,862.9 177.0,867.2 178.5,871.3 177.9,873.8 178.8,876.6 181.1,877.5 183.5,878.5 187.9,877.2 190.9,876.0 195.3,876.3 200.0,875.7 203.0,875.0 205.6,873.5 208.6,871.3 211.2,868.5 213.9,866.0 215.9,863.2 218.3,860.1 220.1,858.2 221.3,854.1 221.6,851.6 220.7,850.4 223.3,848.5 227.2,846.7 229.2,844.2 229.2,840.1 228.6,836.4 227.2,832.9 229.2,829.8 232.2,827.9 235.1,824.8 238.7,822.9 241.9,820.4 244.3,816.7 244.6,812.0 244.0,807.3 243.7,802.7 241.6,799.5 241.0,794.9 240.4,791.7 239.3,788.6 239.6,785.5 241.6,782.4 243.1,779.3 245.2,776.8 247.2,774.9 250.2,771.8 252.8,768.0 256.1,764.9 259.3,762.7 262.6,758.7 265.8,754.9 268.5,750.2 270.8,745.3 273.5,740.3 275.2,737.5 275.5,733.1 272.9,733.4 269.6,734.6 266.1,735.3 261.7,736.5 257.8,737.5 254.3,737.5 252.2,734.6 250.8,733.7 251.9,732.5 252.2,730.9 250.2,728.4 247.2,726.2 244.9,724.0 241.9,721.5 240.4,720.0 238.4,714.4 235.4,711.6 234.5,708.4 234.2,704.4 233.1,701.3 230.1,697.2 228.9,695.0 226.9,691.0 225.1,687.8 223.9,684.7 221.6,681.0 220.7,677.5 220.4,676.5 221.3,678.2 222.7,681.0 225.4,683.2 226.3,681.9 227.2,679.4 227.6,677.9 227.8,679.7 226.9,682.2 228.6,683.8 230.7,686.9 232.5,689.4 234.5,692.5 236.9,695.0 239.0,699.4 239.8,702.2 241.3,706.3 244.0,709.4 246.3,713.7 249.3,717.5 250.5,720.6 250.8,723.7 252.2,727.2 252.8,730.3 254.9,730.6 257.2,730.0 259.0,728.4 262.6,727.8 266.4,726.2 269.3,724.7 272.3,723.1 275.8,722.5 278.5,720.9 278.5,718.4 281.1,717.8 285.3,716.9 287.9,715.0 289.7,713.7 291.8,711.9 294.7,710.6 295.0,707.8 297.1,705.9 299.1,703.1 300.9,700.0 298.6,697.8 297.4,696.3 295.0,695.6 292.6,694.4 291.2,692.5 290.6,690.0 290.9,687.8 290.0,688.5 288.5,690.0 287.3,691.3 285.6,693.1 283.8,694.7 280.9,694.7 278.5,695.0 276.7,694.4 275.8,692.8 276.7,690.3 276.1,688.5 275.0,688.8 274.4,691.3 273.8,691.9 272.3,689.1 272.3,687.2 270.5,685.3 268.5,683.5 267.3,681.0 265.5,678.2 266.7,676.6 267.9,676.3 269.6,676.0 272.3,676.3 273.5,678.5 274.7,680.0 275.8,682.5 278.8,683.8 282.3,686.0 285.3,687.2 288.5,686.3 290.6,685.3 292.6,686.9 293.5,689.4 297.1,690.0 300.0,690.7 304.5,691.3Z" fill="#c9c9c7"/></g><g clip-path="url(#clipBL)"><use href="#outB" fill="none" stroke="#555" stroke-width="1.05" stroke-linejoin="round"/></g><path d="M96.0,650.2 C90.6,649.9 87.7,650.7 84.7,652.0 C81.7,653.3 79.8,655.2 78.0,657.8 C76.2,660.3 75.3,663.2 74.2,667.3 C73.1,671.4 72.0,677.3 71.4,682.4 C70.8,687.5 70.3,692.2 70.4,697.6 C70.5,703.0 71.0,709.3 71.8,714.7 C72.6,720.1 73.7,725.6 75.2,730.0 C76.7,734.4 78.9,738.5 80.9,741.3 C82.9,744.1 84.8,745.0 87.0,746.6 C89.2,748.2 91.7,749.4 94.0,751.0 C96.3,752.6 98.7,755.4 101.0,756.3 C103.3,757.2 105.7,756.6 108.0,756.3 C110.3,756.0 112.1,754.6 115.0,754.5 C117.9,754.4 122.0,755.1 125.5,755.4 C129.0,755.7 133.1,755.9 136.0,756.3 C138.9,756.7 140.7,757.4 143.0,758.0 C145.3,758.6 145.5,759.6 150.0,759.8 C154.5,760.0 164.2,759.2 170.0,759.0 C175.8,758.8 181.6,756.6 184.9,758.4 C188.2,760.2 187.7,766.1 189.6,770.0 C191.5,773.9 194.1,778.2 196.6,781.7 C199.1,785.2 201.4,787.9 204.7,791.0 C208.0,794.1 212.5,797.9 216.4,800.4 C220.3,802.9 223.7,804.8 228.1,806.2 C232.5,807.6 240.3,809.6 243.0,808.6 C245.7,807.6 244.2,803.7 244.5,800.4 C244.8,797.1 244.1,792.2 244.5,788.7 C244.9,785.2 244.9,782.5 246.8,779.4 C248.7,776.3 253.4,773.1 256.1,770.0 C258.8,766.9 261.1,764.4 263.1,760.7 C265.1,757.0 266.5,751.8 268.0,748.0 C269.5,744.2 270.5,741.0 272.0,738.0 C273.5,735.0 275.4,732.5 276.8,729.9 C278.2,727.3 278.7,724.8 280.6,722.3 C282.5,719.8 285.7,717.2 288.2,714.7 C290.7,712.2 293.9,709.6 295.8,707.1 C297.7,704.6 299.1,702.0 299.6,699.5 C300.1,697.0 299.6,694.9 298.6,692.0 C297.7,689.1 295.6,685.1 293.9,682.4 C292.2,679.7 290.7,677.5 288.2,675.8 C285.7,674.1 282.8,672.8 278.7,672.0 C274.6,671.2 267.9,672.1 263.5,671.1 C259.1,670.1 256.4,667.2 252.0,666.3 C247.6,665.3 242.7,666.2 237.0,665.4 C231.3,664.6 224.3,662.6 218.0,661.6 C211.7,660.6 205.3,659.6 199.0,659.3 C192.7,659.0 185.4,660.0 180.0,659.7 C174.6,659.5 170.5,658.4 166.3,657.8 C162.1,657.2 160.1,656.8 155.0,656.0 C149.9,655.2 142.3,653.3 136.0,653.0 C129.7,652.7 123.7,654.5 117.0,654.0 C110.3,653.5 101.4,650.5 96.0,650.2Z" fill="#a0d6ce" fill-opacity="0.45"/><path d="M74.2,701.4 C75.0,698.2 76.6,689.7 79.0,686.2 C81.4,682.7 84.7,682.2 88.5,680.5 C92.3,678.8 97.7,677.0 101.8,675.8 C105.9,674.5 109.6,674.3 113.1,673.0 C116.6,671.7 119.4,669.5 122.6,668.2 C125.8,666.9 128.9,666.2 132.1,665.4 C135.3,664.6 137.8,663.7 141.6,663.5 C145.4,663.3 150.8,663.9 154.9,664.4 C159.0,664.9 162.5,665.5 166.3,666.3 C170.1,667.1 173.8,668.6 177.7,669.2 C181.6,669.8 186.3,669.5 190.0,670.1 C193.7,670.7 195.9,672.5 200.0,672.8 C204.1,673.1 211.0,671.7 214.5,672.0 C218.0,672.3 219.0,672.9 220.9,674.4 C222.8,675.9 224.2,677.9 225.7,680.9 C227.2,683.9 228.6,688.1 229.7,692.1 C230.8,696.1 231.8,701.7 232.1,704.9 C232.4,708.1 232.1,709.6 231.3,711.4 C230.5,713.1 229.3,714.2 227.3,715.4 C225.3,716.6 222.2,717.8 219.3,718.6 C216.4,719.4 212.8,720.1 209.6,720.2 C206.4,720.3 203.6,719.9 200.0,719.4 C196.4,718.9 191.7,717.6 188.0,717.5 C184.3,717.4 181.3,718.8 177.7,718.5 C174.1,718.2 170.1,716.7 166.3,715.7 C162.5,714.8 158.7,713.6 154.9,712.8 C151.1,712.0 146.7,711.0 143.5,710.9 C140.3,710.8 139.1,711.6 135.9,711.9 C132.7,712.2 128.3,713.0 124.5,712.8 C120.7,712.6 116.9,711.2 113.1,710.9 C109.3,710.6 105.3,710.7 101.8,710.9 C98.3,711.1 95.5,711.9 92.3,711.9 C89.1,711.9 85.3,711.4 82.8,710.9 C80.3,710.4 78.5,710.0 77.1,709.0 C75.7,708.0 74.7,706.5 74.2,705.2 C73.7,703.9 73.4,704.6 74.2,701.4Z" fill="#f5c35f"/><path d="M228.9,674.4 C229.2,672.5 230.2,670.9 232.1,669.6 C234.0,668.3 237.4,667.2 240.1,666.4 C242.8,665.6 245.8,664.9 248.2,664.8 C250.6,664.7 252.3,665.1 254.6,665.6 C256.9,666.1 260.3,666.8 261.8,668.0 C263.3,669.2 262.4,671.2 263.4,672.8 C264.3,674.4 266.0,675.8 267.5,677.7 C269.0,679.6 271.2,682.0 272.3,684.1 C273.4,686.2 273.4,688.9 273.9,690.5 C274.4,692.1 274.4,693.4 275.5,693.7 C276.6,694.0 278.0,692.1 280.3,692.1 C282.6,692.1 287.1,692.6 289.1,693.7 C291.1,694.8 291.9,696.4 292.3,698.5 C292.7,700.6 292.4,703.9 291.5,706.6 C290.6,709.3 288.8,712.5 286.7,714.6 C284.6,716.7 281.1,718.1 278.7,719.4 C276.3,720.7 274.4,721.8 272.3,722.6 C270.2,723.4 268.2,724.2 265.8,724.2 C263.4,724.2 259.9,724.5 257.8,722.6 C255.7,720.7 254.6,716.5 253.0,713.0 C251.4,709.5 249.6,704.4 248.0,701.7 C246.4,699.0 244.4,696.7 243.3,697.0 C242.2,697.3 242.8,704.4 241.7,703.3 C240.6,702.2 238.9,694.2 237.0,690.5 C235.1,686.8 231.8,683.6 230.5,680.9 C229.2,678.2 228.6,676.3 228.9,674.4Z" fill="#f5c35f"/><path d="M147.6,751.7 C148.0,751.0 149.4,750.7 150.5,751.1 C151.6,751.5 152.6,753.6 154.0,754.0 C155.4,754.4 157.1,753.3 158.7,753.4 C160.3,753.5 161.7,754.1 163.4,754.6 C165.2,755.1 167.3,756.0 169.2,756.4 C171.1,756.8 173.1,756.7 175.0,756.9 C176.9,757.1 179.0,757.6 180.9,757.5 C182.8,757.4 185.1,756.7 186.7,756.4 C188.2,756.1 188.6,755.8 190.2,755.8 C191.8,755.8 193.9,756.1 196.1,756.4 C198.2,756.7 201.0,756.8 203.1,757.5 C205.2,758.2 207.6,759.2 208.9,760.4 C210.2,761.6 211.0,763.0 211.2,764.5 C211.4,766.0 210.7,767.6 210.1,769.2 C209.5,770.8 208.1,772.1 207.7,773.9 C207.3,775.6 207.8,777.8 207.7,779.7 C207.6,781.6 207.8,783.9 207.2,785.5 C206.6,787.1 205.7,788.3 204.2,789.1 C202.7,789.9 200.2,790.2 198.4,790.2 C196.7,790.2 195.2,788.9 193.7,789.1 C192.1,789.3 190.6,791.2 189.1,791.4 C187.6,791.6 185.6,791.0 184.4,790.2 C183.2,789.4 182.8,788.1 182.0,786.7 C181.2,785.3 180.9,783.2 179.7,782.0 C178.5,780.8 176.6,780.5 175.0,779.7 C173.4,778.9 171.6,778.2 170.4,777.4 C169.2,776.6 168.8,775.2 168.0,775.0 C167.2,774.8 166.3,775.2 165.7,776.2 C165.1,777.2 165.1,779.9 164.5,780.9 C163.9,781.9 162.9,781.4 162.2,782.0 C161.5,782.6 160.5,783.2 160.4,784.4 C160.3,785.6 161.8,788.7 161.6,789.1 C161.4,789.5 160.2,787.7 159.3,786.7 C158.4,785.7 157.5,784.6 156.4,783.2 C155.3,781.8 153.9,780.0 152.8,778.5 C151.7,777.0 150.6,775.8 149.9,773.9 C149.2,772.0 148.9,769.2 148.8,766.9 C148.7,764.6 149.4,761.8 149.3,759.9 C149.2,758.0 148.5,756.6 148.2,755.2 C147.9,753.8 147.2,752.4 147.6,751.7Z" fill="#5cb36e"/><g fill="#5cb36e"><ellipse cx="97.5" cy="751" rx="4.5" ry="4.5"/><ellipse cx="116.8" cy="751.9" rx="4" ry="3.3"/><ellipse cx="139.2" cy="750.1" rx="3.6" ry="3.2"/></g><path d="M164.3,859.7 C164.3,857.3 164.3,854.0 165.3,851.6 C166.3,849.2 167.8,846.9 170.4,845.4 C173.0,843.9 176.6,843.2 180.7,842.4 C184.8,841.5 190.2,840.3 195.0,840.3 C199.8,840.3 204.9,841.7 209.3,842.4 C213.7,843.1 217.8,844.1 221.5,844.4 C225.2,844.7 228.6,845.1 231.7,844.4 C234.8,843.7 237.2,841.4 239.9,840.3 C242.6,839.2 245.0,838.0 248.1,837.7 C251.2,837.4 255.6,837.3 258.3,838.3 C261.0,839.2 263.2,841.5 264.4,843.4 C265.6,845.3 266.2,847.8 265.5,849.5 C264.8,851.2 263.0,852.2 260.4,853.6 C257.8,855.0 254.2,856.0 250.1,857.7 C246.0,859.4 240.2,861.8 235.8,863.8 C231.4,865.8 227.7,867.6 223.6,870.0 C219.5,872.4 215.4,875.9 211.3,878.1 C207.2,880.3 203.1,882.2 199.0,883.2 C194.9,884.2 190.5,884.8 186.8,884.3 C183.1,883.8 179.7,882.2 176.6,880.2 C173.5,878.2 170.3,874.4 168.4,872.0 C166.5,869.6 166.0,867.9 165.3,865.9 C164.6,863.9 164.3,862.1 164.3,859.7Z" fill="#e070ee" fill-opacity="0.5"/><path d="M96.0,650.2 C90.6,649.9 87.7,650.7 84.7,652.0 C81.7,653.3 79.8,655.2 78.0,657.8 C76.2,660.3 75.3,663.2 74.2,667.3 C73.1,671.4 72.0,677.3 71.4,682.4 C70.8,687.5 70.3,692.2 70.4,697.6 C70.5,703.0 71.0,709.3 71.8,714.7 C72.6,720.1 73.7,725.6 75.2,730.0 C76.7,734.4 78.9,738.5 80.9,741.3 C82.9,744.1 84.8,745.0 87.0,746.6 C89.2,748.2 91.7,749.4 94.0,751.0 C96.3,752.6 98.7,755.4 101.0,756.3 C103.3,757.2 105.7,756.6 108.0,756.3 C110.3,756.0 112.1,754.6 115.0,754.5 C117.9,754.4 122.0,755.1 125.5,755.4 C129.0,755.7 133.1,755.9 136.0,756.3 C138.9,756.7 140.7,757.4 143.0,758.0 C145.3,758.6 145.5,759.6 150.0,759.8 C154.5,760.0 164.2,759.2 170.0,759.0 C175.8,758.8 181.6,756.6 184.9,758.4 C188.2,760.2 187.7,766.1 189.6,770.0 C191.5,773.9 194.1,778.2 196.6,781.7 C199.1,785.2 201.4,787.9 204.7,791.0 C208.0,794.1 212.5,797.9 216.4,800.4 C220.3,802.9 223.7,804.8 228.1,806.2 C232.5,807.6 240.3,809.6 243.0,808.6 C245.7,807.6 244.2,803.7 244.5,800.4 C244.8,797.1 244.1,792.2 244.5,788.7 C244.9,785.2 244.9,782.5 246.8,779.4 C248.7,776.3 253.4,773.1 256.1,770.0 C258.8,766.9 261.1,764.4 263.1,760.7 C265.1,757.0 266.5,751.8 268.0,748.0 C269.5,744.2 270.5,741.0 272.0,738.0 C273.5,735.0 275.4,732.5 276.8,729.9 C278.2,727.3 278.7,724.8 280.6,722.3 C282.5,719.8 285.7,717.2 288.2,714.7 C290.7,712.2 293.9,709.6 295.8,707.1 C297.7,704.6 299.1,702.0 299.6,699.5 C300.1,697.0 299.6,694.9 298.6,692.0 C297.7,689.1 295.6,685.1 293.9,682.4 C292.2,679.7 290.7,677.5 288.2,675.8 C285.7,674.1 282.8,672.8 278.7,672.0 C274.6,671.2 267.9,672.1 263.5,671.1 C259.1,670.1 256.4,667.2 252.0,666.3 C247.6,665.3 242.7,666.2 237.0,665.4 C231.3,664.6 224.3,662.6 218.0,661.6 C211.7,660.6 205.3,659.6 199.0,659.3 C192.7,659.0 185.4,660.0 180.0,659.7 C174.6,659.5 170.5,658.4 166.3,657.8 C162.1,657.2 160.1,656.8 155.0,656.0 C149.9,655.2 142.3,653.3 136.0,653.0 C129.7,652.7 123.7,654.5 117.0,654.0 C110.3,653.5 101.4,650.5 96.0,650.2Z" fill="none" stroke="#3a4ea8" stroke-width="0.8" stroke-dasharray="0.6 1.2"/><path d="M164.3,859.7 C164.3,857.3 164.3,854.0 165.3,851.6 C166.3,849.2 167.8,846.9 170.4,845.4 C173.0,843.9 176.6,843.2 180.7,842.4 C184.8,841.5 190.2,840.3 195.0,840.3 C199.8,840.3 204.9,841.7 209.3,842.4 C213.7,843.1 217.8,844.1 221.5,844.4 C225.2,844.7 228.6,845.1 231.7,844.4 C234.8,843.7 237.2,841.4 239.9,840.3 C242.6,839.2 245.0,838.0 248.1,837.7 C251.2,837.4 255.6,837.3 258.3,838.3 C261.0,839.2 263.2,841.5 264.4,843.4 C265.6,845.3 266.2,847.8 265.5,849.5 C264.8,851.2 263.0,852.2 260.4,853.6 C257.8,855.0 254.2,856.0 250.1,857.7 C246.0,859.4 240.2,861.8 235.8,863.8 C231.4,865.8 227.7,867.6 223.6,870.0 C219.5,872.4 215.4,875.9 211.3,878.1 C207.2,880.3 203.1,882.2 199.0,883.2 C194.9,884.2 190.5,884.8 186.8,884.3 C183.1,883.8 179.7,882.2 176.6,880.2 C173.5,878.2 170.3,874.4 168.4,872.0 C166.5,869.6 166.0,867.9 165.3,865.9 C164.6,863.9 164.3,862.1 164.3,859.7Z" fill="none" stroke="#b030c0" stroke-width="0.8" stroke-dasharray="0.6 1.2"/><path d="M86.6,745.1 C90.2,744.4 101.0,742.2 108.2,741.1 C115.4,740.0 122.5,738.7 130.0,738.5 C137.5,738.3 146.8,739.1 153.4,739.7 C160.0,740.3 165.4,740.6 169.7,742.0 C174.0,743.4 176.5,745.1 179.0,747.8 C181.5,750.5 183.1,754.7 184.9,758.4 C186.7,762.1 187.7,766.1 189.6,770.0 C191.5,773.9 194.1,778.2 196.6,781.7 C199.1,785.2 201.4,787.9 204.7,791.0 C208.0,794.1 212.5,797.9 216.4,800.4 C220.3,802.9 223.7,804.8 228.1,806.2 C232.5,807.6 240.5,808.4 243.0,808.8" fill="none" stroke="#111" stroke-width="1.3"/><path d="M265.5,815.5 C267.5,825 265,835 260.8,842.5" fill="none" stroke="#3cb84a" stroke-width="1.4"/></g><g><g clip-path="url(#landBR)"><path d="M385.0,700.0 C388.1,684.0 395.6,702.3 398.7,703.7 C401.8,705.1 400.7,707.4 403.4,708.4 C406.1,709.4 409.2,709.0 415.0,709.6 C420.8,710.2 430.6,711.5 438.4,711.9 C446.2,712.3 456.0,711.7 461.8,711.9 C467.6,712.1 467.6,712.3 473.4,713.1 C479.2,713.9 490.7,715.6 496.8,716.6 C502.9,717.6 503.1,718.7 510.0,719.3 C517.0,719.9 530.6,719.4 538.5,720.2 C546.4,721.0 552.6,722.4 557.4,724.0 C562.1,725.6 564.7,728.0 567.0,729.7 C569.3,731.4 570.0,732.3 571.0,734.0 C572.0,735.7 579.8,737.3 573.0,740.0 C566.2,742.7 547.2,746.7 530.0,750.0 C512.8,753.3 480.8,751.7 470.0,760.0 C459.2,768.3 480.0,793.3 465.0,800.0 C450.0,806.7 393.3,816.7 380.0,800.0 C366.7,783.3 381.9,716.0 385.0,700.0Z" fill="#c9c9c7"/></g><g clip-path="url(#clipBR)"><use href="#outB" x="323" fill="none" stroke="#555" stroke-width="1.05" stroke-linejoin="round"/></g><path d="M409.3,622.7 C409.0,618.4 410.4,613.9 412.0,610.0 C413.6,606.1 415.6,603.3 418.7,599.4 C421.8,595.5 425.7,589.6 430.4,586.5 C435.1,583.4 440.1,582.8 446.7,580.7 C453.3,578.6 462.2,575.7 470.0,573.7 C477.8,571.8 485.6,570.4 493.4,569.0 C501.2,567.6 509.0,566.3 516.8,565.5 C524.6,564.7 532.9,564.6 540.1,564.3 C547.3,564.0 554.7,564.0 560.0,563.9 C565.3,563.8 566.3,563.6 571.8,563.9 C577.3,564.2 586.5,564.6 592.9,565.6 C599.2,566.6 604.9,567.7 609.9,569.8 C614.9,571.9 619.6,575.1 622.6,578.3 C625.6,581.5 626.8,585.0 627.8,588.9 C628.8,592.8 629.1,596.7 628.9,601.6 C628.7,606.5 627.8,613.2 626.8,618.5 C625.8,623.8 624.7,628.7 622.6,633.3 C620.5,637.9 617.3,642.5 614.1,646.0 C610.9,649.5 608.8,652.1 603.5,654.5 C598.2,656.9 589.8,659.2 582.2,660.3 C574.6,661.4 565.9,661.6 557.7,661.3 C549.5,661.0 541.9,659.8 533.1,658.5 C524.3,657.2 515.6,655.0 505.1,653.3 C494.6,651.5 481.7,649.5 470.0,648.0 C458.3,646.5 443.2,645.4 435.0,644.5 C426.8,643.6 424.5,644.2 421.0,642.8 C417.5,641.3 415.9,639.1 414.0,635.8 C412.1,632.4 409.6,627.0 409.3,622.7Z" fill="#a0d6ce" fill-opacity="0.45"/><path d="M397.5,696.7 C397.7,694.0 398.9,690.5 399.9,687.4 C400.9,684.3 399.7,680.7 403.4,678.0 C407.1,675.3 416.2,672.9 422.0,671.0 C427.8,669.1 433.7,667.6 438.4,666.4 C443.1,665.2 444.9,664.4 450.0,664.0 C455.1,663.6 464.1,663.6 468.8,664.0 C473.5,664.4 475.0,665.4 478.1,666.4 C481.2,667.4 483.6,668.7 487.5,669.9 C491.4,671.1 497.6,673.0 501.5,673.4 C505.4,673.8 507.7,672.6 510.8,672.2 C513.9,671.8 517.2,671.2 520.2,671.0 C523.2,670.8 526.3,670.3 529.0,670.9 C531.7,671.5 534.4,673.4 536.6,674.7 C538.8,676.0 539.9,676.0 542.0,678.5 C544.1,681.0 546.8,686.4 549.0,689.9 C551.2,693.4 553.5,696.1 555.0,699.3 C556.5,702.4 558.2,706.2 558.0,708.8 C557.8,711.4 556.3,713.6 554.0,715.0 C551.7,716.4 548.4,717.0 544.2,717.4 C540.0,717.8 533.0,717.3 529.0,717.4 C525.0,717.5 524.8,718.0 520.2,717.7 C515.6,717.4 506.9,716.2 501.5,715.4 C496.1,714.6 492.2,713.8 487.5,713.1 C482.8,712.4 477.7,711.4 473.4,711.2 C469.1,711.0 465.7,712.0 461.8,711.9 C457.9,711.8 454.0,710.7 450.1,710.7 C446.2,710.7 442.3,711.9 438.4,711.9 C434.5,711.9 430.6,711.1 426.7,710.7 C422.8,710.3 418.9,710.0 415.0,709.6 C411.1,709.2 406.1,709.4 403.4,708.4 C400.7,707.4 399.7,705.7 398.7,703.7 C397.7,701.8 397.3,699.4 397.5,696.7Z" fill="#f5c35f"/><path d="M550.8,678.5 C551.4,676.3 552.8,673.0 555.5,670.9 C558.2,668.8 563.1,667.0 566.9,666.1 C570.7,665.2 575.3,664.7 578.3,665.2 C581.3,665.7 583.7,667.4 585.0,669.0 C586.3,670.6 585.1,672.5 585.9,674.7 C586.7,676.9 588.1,679.8 589.7,682.3 C591.3,684.8 593.5,688.0 595.4,689.9 C597.3,691.8 598.6,693.2 601.1,693.7 C603.6,694.2 608.4,691.8 610.6,692.7 C612.8,693.6 613.9,696.9 614.4,699.3 C614.9,701.7 614.3,704.7 613.4,706.9 C612.5,709.1 611.1,711.0 608.7,712.6 C606.3,714.2 602.4,715.1 599.2,716.4 C596.0,717.7 592.6,719.1 589.7,720.2 C586.9,721.3 584.0,723.1 582.1,723.1 C580.2,723.1 579.2,722.0 578.3,720.2 C577.3,718.5 577.7,715.1 576.4,712.6 C575.1,710.1 572.3,707.7 570.7,705.0 C569.1,702.3 567.9,697.1 566.9,696.5 C565.9,695.9 566.0,701.4 565.0,701.2 C564.0,701.0 562.8,697.4 561.2,695.5 C559.6,693.6 557.1,691.8 555.5,689.9 C553.9,688.0 552.6,686.1 551.8,684.2 C551.0,682.3 550.2,680.7 550.8,678.5Z" fill="#f5c35f"/><path d="M466.4,742.2 C467.8,740.8 468.3,738.7 473.4,737.5 C478.4,736.3 488.9,735.7 496.7,735.2 C504.5,734.7 512.3,734.6 520.1,734.5 C527.9,734.4 536.4,734.2 543.4,734.5 C550.4,734.8 556.6,735.3 562.1,736.4 C567.6,737.5 572.6,739.1 576.1,741.0 C579.6,742.9 581.9,745.3 583.1,748.0 C584.3,750.7 584.1,753.9 583.1,757.4 C582.1,760.9 578.8,765.2 577.3,769.1 C575.8,773.0 574.6,777.2 573.8,780.7 C573.0,784.2 572.0,787.4 572.6,790.1 C573.2,792.8 574.8,794.8 577.3,797.1 C579.8,799.4 585.3,801.4 587.8,804.1 C590.3,806.8 592.1,809.5 592.5,813.4 C592.9,817.3 592.2,823.6 590.2,827.5 C588.2,831.4 585.5,834.1 580.8,836.8 C576.1,839.5 568.3,842.2 562.1,843.8 C555.9,845.3 549.2,846.5 543.4,846.1 C537.6,845.7 532.6,843.8 527.1,841.5 C521.6,839.2 516.1,836.0 510.7,832.1 C505.2,828.2 498.7,822.8 494.4,818.1 C490.1,813.4 487.3,808.8 485.0,804.1 C482.7,799.4 481.9,794.8 480.4,790.1 C478.8,785.4 477.1,780.4 475.7,776.1 C474.3,771.8 473.6,768.3 472.2,764.4 C470.8,760.5 468.7,755.8 467.5,752.7 C466.3,749.6 465.4,747.5 465.2,745.7 C465.0,744.0 465.0,743.6 466.4,742.2Z" fill="#e070ee" fill-opacity="0.5"/><path d="M471.4,751.2 C472.0,750.3 473.8,750.0 474.7,750.2 C475.6,750.4 475.6,752.0 476.7,752.5 C477.8,753.0 479.2,752.8 481.3,753.1 C483.4,753.4 486.6,754.0 489.2,754.5 C491.8,755.0 494.4,755.3 497.0,755.8 C499.6,756.3 502.8,757.8 505.0,757.7 C507.2,757.6 508.2,755.8 510.2,755.1 C512.2,754.5 514.6,753.7 516.8,753.8 C519.0,753.9 521.1,754.8 523.3,755.8 C525.5,756.8 527.9,758.5 529.9,759.7 C531.9,760.9 534.3,761.7 535.1,763.0 C535.9,764.3 535.0,766.0 534.5,767.6 C534.0,769.2 532.3,770.8 531.9,772.8 C531.5,774.8 532.0,777.2 531.9,779.4 C531.8,781.6 532.2,784.5 531.2,786.0 C530.2,787.5 527.6,788.6 526.0,788.6 C524.4,788.6 522.5,787.1 521.4,786.0 C520.3,784.9 520.1,782.2 519.4,782.0 C518.7,781.8 518.1,783.6 517.4,784.7 C516.7,785.8 516.6,787.6 515.4,788.6 C514.2,789.6 511.7,790.6 510.2,790.6 C508.7,790.6 507.3,789.8 506.2,788.6 C505.1,787.4 504.7,784.9 503.6,783.4 C502.5,781.9 501.2,780.3 499.7,779.4 C498.2,778.5 495.7,779.0 494.4,778.1 C493.1,777.2 492.7,775.0 491.8,774.2 C490.9,773.4 490.0,773.1 489.2,773.5 C488.4,773.9 487.9,775.4 487.2,776.8 C486.5,778.2 485.4,780.2 485.2,782.0 C485.0,783.8 486.2,786.5 485.9,787.3 C485.6,788.1 484.1,787.7 483.2,786.6 C482.3,785.5 481.6,782.6 480.6,780.7 C479.6,778.9 478.3,777.1 477.3,775.5 C476.3,773.9 475.5,772.9 474.7,770.9 C473.9,768.9 473.3,766.2 472.7,763.7 C472.1,761.2 471.0,757.9 470.8,755.8 C470.6,753.7 470.8,752.1 471.4,751.2Z" fill="#5cb36e"/><g fill="#5cb36e"><ellipse cx="422" cy="748.7" rx="6" ry="4.5"/><ellipse cx="440" cy="750.5" rx="4" ry="3.3"/><ellipse cx="462.5" cy="749.3" rx="3.6" ry="3.5"/></g><path d="M409.3,622.7 C409.0,618.4 410.4,613.9 412.0,610.0 C413.6,606.1 415.6,603.3 418.7,599.4 C421.8,595.5 425.7,589.6 430.4,586.5 C435.1,583.4 440.1,582.8 446.7,580.7 C453.3,578.6 462.2,575.7 470.0,573.7 C477.8,571.8 485.6,570.4 493.4,569.0 C501.2,567.6 509.0,566.3 516.8,565.5 C524.6,564.7 532.9,564.6 540.1,564.3 C547.3,564.0 554.7,564.0 560.0,563.9 C565.3,563.8 566.3,563.6 571.8,563.9 C577.3,564.2 586.5,564.6 592.9,565.6 C599.2,566.6 604.9,567.7 609.9,569.8 C614.9,571.9 619.6,575.1 622.6,578.3 C625.6,581.5 626.8,585.0 627.8,588.9 C628.8,592.8 629.1,596.7 628.9,601.6 C628.7,606.5 627.8,613.2 626.8,618.5 C625.8,623.8 624.7,628.7 622.6,633.3 C620.5,637.9 617.3,642.5 614.1,646.0 C610.9,649.5 608.8,652.1 603.5,654.5 C598.2,656.9 589.8,659.2 582.2,660.3 C574.6,661.4 565.9,661.6 557.7,661.3 C549.5,661.0 541.9,659.8 533.1,658.5 C524.3,657.2 515.6,655.0 505.1,653.3 C494.6,651.5 481.7,649.5 470.0,648.0 C458.3,646.5 443.2,645.4 435.0,644.5 C426.8,643.6 424.5,644.2 421.0,642.8 C417.5,641.3 415.9,639.1 414.0,635.8 C412.1,632.4 409.6,627.0 409.3,622.7Z" fill="none" stroke="#3a4ea8" stroke-width="0.8" stroke-dasharray="0.6 1.2"/><path d="M466.4,742.2 C467.8,740.8 468.3,738.7 473.4,737.5 C478.4,736.3 488.9,735.7 496.7,735.2 C504.5,734.7 512.3,734.6 520.1,734.5 C527.9,734.4 536.4,734.2 543.4,734.5 C550.4,734.8 556.6,735.3 562.1,736.4 C567.6,737.5 572.6,739.1 576.1,741.0 C579.6,742.9 581.9,745.3 583.1,748.0 C584.3,750.7 584.1,753.9 583.1,757.4 C582.1,760.9 578.8,765.2 577.3,769.1 C575.8,773.0 574.6,777.2 573.8,780.7 C573.0,784.2 572.0,787.4 572.6,790.1 C573.2,792.8 574.8,794.8 577.3,797.1 C579.8,799.4 585.3,801.4 587.8,804.1 C590.3,806.8 592.1,809.5 592.5,813.4 C592.9,817.3 592.2,823.6 590.2,827.5 C588.2,831.4 585.5,834.1 580.8,836.8 C576.1,839.5 568.3,842.2 562.1,843.8 C555.9,845.3 549.2,846.5 543.4,846.1 C537.6,845.7 532.6,843.8 527.1,841.5 C521.6,839.2 516.1,836.0 510.7,832.1 C505.2,828.2 498.7,822.8 494.4,818.1 C490.1,813.4 487.3,808.8 485.0,804.1 C482.7,799.4 481.9,794.8 480.4,790.1 C478.8,785.4 477.1,780.4 475.7,776.1 C474.3,771.8 473.6,768.3 472.2,764.4 C470.8,760.5 468.7,755.8 467.5,752.7 C466.3,749.6 465.4,747.5 465.2,745.7 C465.0,744.0 465.0,743.6 466.4,742.2Z" fill="none" stroke="#b030c0" stroke-width="0.8" stroke-dasharray="0.6 1.2"/><path d="M396.4,702.6 C398.7,702.3 405.3,701.9 410.4,700.9 C415.4,699.9 420.9,698.6 426.7,696.7 C432.5,694.8 439.5,691.7 445.4,689.7 C451.2,687.8 456.4,685.9 461.8,685.0 C467.2,684.1 473.1,684.0 478.1,684.6 C483.2,685.2 487.8,686.5 492.1,688.5 C496.4,690.5 500.8,694.1 503.8,696.7 C506.8,699.3 507.6,701.6 510.0,704.0 C512.4,706.4 514.8,709.0 518.0,711.0 C521.2,713.0 524.0,714.5 529.0,716.0 C534.0,717.5 542.2,719.4 548.0,720.2 C553.8,721.0 561.3,720.7 564.0,720.8" fill="none" stroke="#111" stroke-width="1.3"/><path d="M590.2,815.8 C591.5,827 588.5,838 584.3,846" fill="none" stroke="#3cb84a" stroke-width="1.2"/></g><line x1="35.3" y1="765.5" x2="292.5" y2="765.5" stroke="#d0306a" stroke-width="1" stroke-dasharray="2.2 1.6"/><line x1="388" y1="766.3" x2="646" y2="766.3" stroke="#d0306a" stroke-width="1" stroke-dasharray="2.2 1.6"/><use href="#bfA" transform="translate(104.6,660.0) rotate(9)"/><use href="#bfA" transform="translate(107.6,675.0) rotate(18)"/><use href="#bfA" transform="translate(149.2,662.0) rotate(18)"/><use href="#bfA" transform="translate(188.0,672.4) rotate(9)"/><use href="#bfA" transform="translate(214.0,677.0) rotate(12)"/><use href="#bfA" transform="translate(282.3,681.5) rotate(18)"/><use href="#bfA" transform="translate(273.0,722.6) rotate(15)"/><use href="#bfA" transform="translate(111.0,745.2) rotate(18)"/><use href="#bfA" transform="translate(148.0,746.0) rotate(6)"/><use href="#bfA" transform="translate(166.0,753.0) rotate(18)"/><use href="#bfA" transform="translate(177.0,764.0) rotate(6)"/><use href="#bfA" transform="translate(200.0,757.7) rotate(15)"/><use href="#bfA" transform="translate(225.8,768.4) rotate(12)"/><use href="#bfA" transform="translate(248.0,773.0) rotate(18)"/><use href="#bfA" transform="translate(213.0,777.7) rotate(9)"/><use href="#bfA" transform="translate(230.4,786.0) rotate(9)"/><use href="#bfA" transform="translate(230.4,801.1) rotate(15)"/><use href="#bfA" transform="translate(202.1,846.5) rotate(18)"/><use href="#bfA" transform="translate(178.6,854.6) rotate(18)"/><use href="#bfA" transform="translate(204.2,861.7) rotate(15)"/><use href="#bfA" transform="translate(220.5,862.7) rotate(15)"/><use href="#bfA" transform="translate(182.7,866.8) rotate(9)"/><use href="#bfA" transform="translate(180.7,877.0) rotate(9)"/><use href="#bfA" transform="translate(204.2,877.0) rotate(9)"/><use href="#bfA" transform="translate(255.3,851.5) rotate(18)"/><use href="#bfB" transform="translate(497.0,585.0) rotate(20)"/><use href="#bfB" transform="translate(478.4,601.8) rotate(30)"/><use href="#bfB" transform="translate(443.2,607.6) rotate(8)"/><use href="#bfB" transform="translate(463.0,615.7) rotate(30)"/><use href="#bfB" transform="translate(422.2,633.3) rotate(8)"/><use href="#bfB" transform="translate(455.0,633.3) rotate(12)"/><use href="#bfB" transform="translate(488.8,638.0) rotate(25)"/><use href="#bfB" transform="translate(502.8,607.6) rotate(8)"/><use href="#bfB" transform="translate(529.6,606.0) rotate(16)"/><use href="#bfB" transform="translate(534.3,592.4) rotate(8)"/><use href="#bfB" transform="translate(500.4,624.0) rotate(16)"/><use href="#bfB" transform="translate(515.6,633.3) rotate(20)"/><use href="#bfB" transform="translate(513.3,648.4) rotate(25)"/><use href="#bfB" transform="translate(555.0,583.0) rotate(30)"/><use href="#bfB" transform="translate(552.0,613.3) rotate(20)"/><use href="#bfB" transform="translate(555.0,650.6) rotate(30)"/><use href="#bfB" transform="translate(581.3,593.1) rotate(20)"/><use href="#bfB" transform="translate(618.3,598.4) rotate(20)"/><use href="#bfB" transform="translate(592.0,612.2) rotate(30)"/><use href="#bfB" transform="translate(582.3,639.7) rotate(25)"/><use href="#bfB" transform="translate(481.5,746.9) rotate(20)"/><use href="#bfB" transform="translate(506.1,750.4) rotate(12)"/><use href="#bfB" transform="translate(531.8,755.0) rotate(16)"/><use href="#bfB" transform="translate(555.1,748.0) rotate(8)"/><use href="#bfB" transform="translate(572.6,758.5) rotate(8)"/><use href="#bfB" transform="translate(543.4,769.1) rotate(12)"/><use href="#bfB" transform="translate(563.3,774.9) rotate(20)"/><use href="#bfB" transform="translate(548.1,785.4) rotate(12)"/><use href="#bfB" transform="translate(493.2,798.3) rotate(16)"/><use href="#bfB" transform="translate(539.9,800.6) rotate(30)"/><use href="#bfB" transform="translate(559.8,804.1) rotate(20)"/><use href="#bfB" transform="translate(513.1,808.8) rotate(30)"/><use href="#bfB" transform="translate(538.8,816.9) rotate(16)"/><use href="#bfB" transform="translate(556.3,820.4) rotate(20)"/><use href="#bfB" transform="translate(521.2,826.3) rotate(25)"/><use href="#bfB" transform="translate(544.6,835.6) rotate(20)"/><g font-weight="bold" font-size="10.9" fill="#8fd3c4"><text x="13.9" y="648.1">Northern</text><text x="13.9" y="661.2">population</text><text x="620.6" y="647.8">Northern</text><text x="620.6" y="660.2">population</text></g><g font-weight="bold" font-size="10.9" fill="#d636e4"><text x="104.2" y="861.1">Southern</text><text x="104.2" y="874.8">population</text><text x="585.5" y="785.3">Southern</text><text x="585.5" y="798.5">population</text></g><text x="133.1" y="694.2" font-size="7.8" letter-spacing="0.9" fill="#222">Sahara</text><text x="109" y="736.5" font-size="11" font-family="Liberation Serif" fill="#111" style="font-family:'Liberation Serif',serif">ITCZ</text><text x="410.4" y="693.9" font-size="12" fill="#111" style="font-family:'Liberation Serif',serif">ITCZ</text><g font-size="11" letter-spacing="0.3" fill="#4a5aa8"><text x="172" y="821.9">Precipitation</text><text x="442.6" y="732.9">Precipitation</text></g><g font-size="9.5" font-weight="bold" fill="#cc2a5c"><text x="39.7" y="761">Equator</text><text x="606" y="761">Equator</text></g>
</g>

<!-- boxes -->
<rect x="6.6" y="580.2" width="50.6" height="27.5" fill="#fff" stroke="#444" stroke-width="0.9"/>
<text x="31.9" y="597.7" font-size="12" font-weight="bold" text-anchor="middle">Winter</text>
<rect x="6.5" y="845.2" width="59.3" height="28.2" fill="#fff" stroke="#444" stroke-width="0.9"/>
<text x="36.1" y="864" font-size="12" font-weight="bold" text-anchor="middle">Summer</text>
<rect x="352.2" y="579.6" width="61.3" height="27.6" fill="#fff" stroke="#444" stroke-width="0.9"/>
<text x="382.8" y="597.1" font-size="12" font-weight="bold" text-anchor="middle">Summer</text>
<rect x="352.3" y="844.8" width="56.3" height="27.5" fill="#fff" stroke="#444" stroke-width="0.9"/>
<text x="380.7" y="862.3" font-size="12" font-weight="bold" text-anchor="middle">Winter</text>

</svg>
</body></html>
